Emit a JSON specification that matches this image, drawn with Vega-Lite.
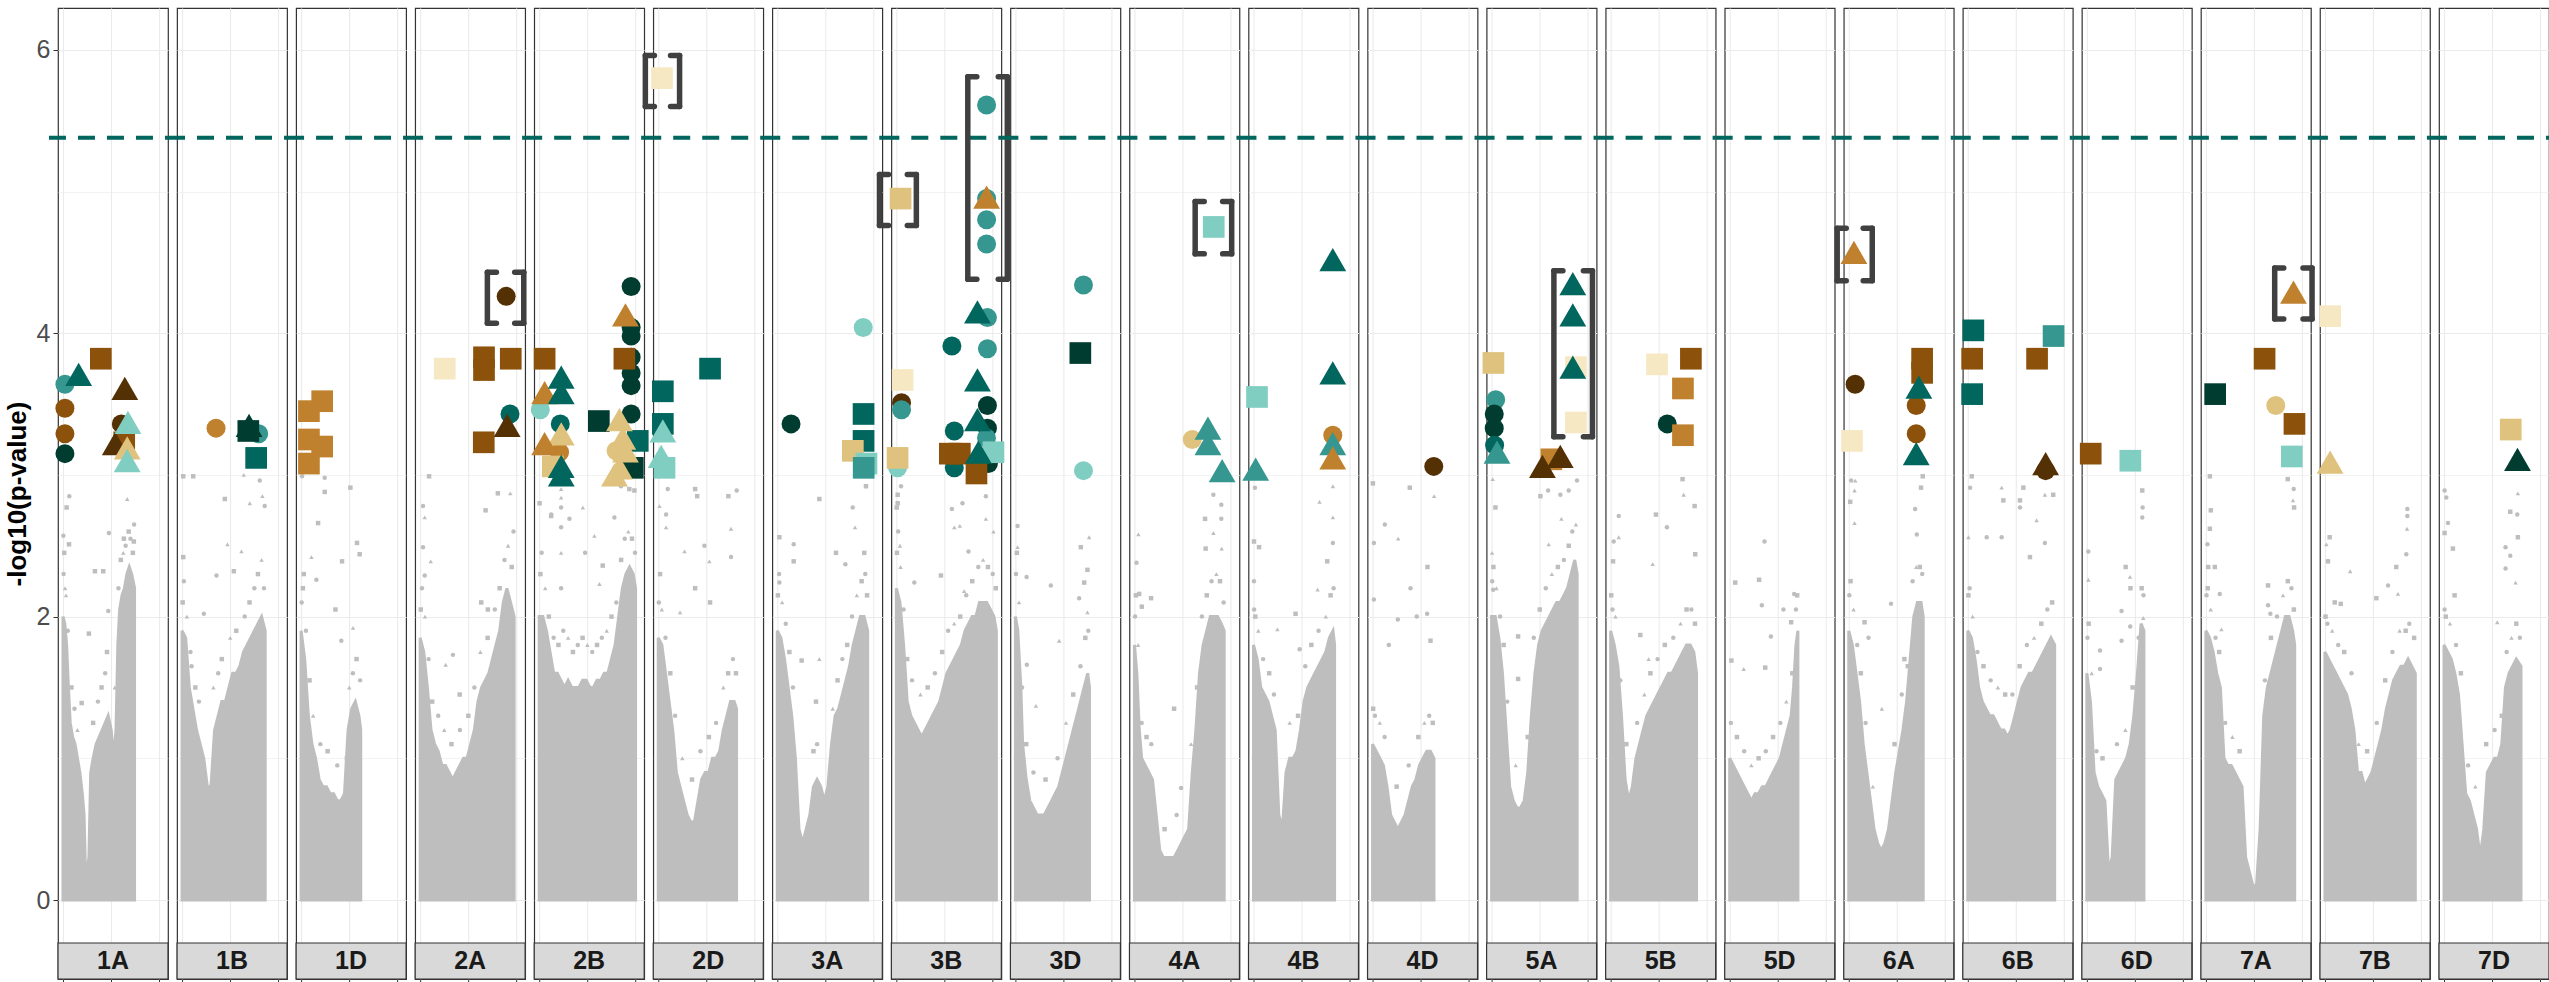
{
"$schema":"https://vega.github.io/schema/vega-lite/v6.json",
"padding":{"left":4,"top":7,"right":0,"bottom":0},
"autosize":{"type":"pad"},
"bounds":"flush",
"background":"white",
"config":{"view":{"stroke":"#333333","strokeWidth":1.2},"axis":{"domain":false,"labelFont":"Liberation Sans","titleFont":"Liberation Sans","gridColor":"#ebebeb"},"text":{"font":"Liberation Sans"}},
"data":{"values":[
{"k":"h","c":"1A"},{"k":"h","c":"1B"},{"k":"h","c":"1D"},{"k":"h","c":"2A"},{"k":"h","c":"2B"},{"k":"h","c":"2D"},{"k":"h","c":"3A"},{"k":"h","c":"3B"},{"k":"h","c":"3D"},{"k":"h","c":"4A"},{"k":"h","c":"4B"},{"k":"h","c":"4D"},{"k":"h","c":"5A"},{"k":"h","c":"5B"},{"k":"h","c":"5D"},{"k":"h","c":"6A"},{"k":"h","c":"6B"},{"k":"h","c":"6D"},{"k":"h","c":"7A"},{"k":"h","c":"7B"},{"k":"h","c":"7D"},
{"k":"g","c":"1A","x":0,"y":2.0},{"k":"g","c":"1A","x":15,"y":1.95},{"k":"g","c":"1A","x":30,"y":1.8},{"k":"g","c":"1A","x":45,"y":1.5},{"k":"g","c":"1A","x":60,"y":1.25},{"k":"g","c":"1A","x":80,"y":1.15},{"k":"g","c":"1A","x":100,"y":1.1},{"k":"g","c":"1A","x":120,"y":1.0},{"k":"g","c":"1A","x":140,"y":0.9},{"k":"g","c":"1A","x":160,"y":0.75},{"k":"g","c":"1A","x":175,"y":0.6},{"k":"g","c":"1A","x":185,"y":0.25},{"k":"g","c":"1A","x":200,"y":0.2},{"k":"g","c":"1A","x":215,"y":0.3},{"k":"g","c":"1A","x":230,"y":0.9},{"k":"g","c":"1A","x":250,"y":1.0},{"k":"g","c":"1A","x":275,"y":1.1},{"k":"g","c":"1A","x":300,"y":1.15},{"k":"g","c":"1A","x":325,"y":1.2},{"k":"g","c":"1A","x":350,"y":1.25},{"k":"g","c":"1A","x":375,"y":1.3},{"k":"g","c":"1A","x":400,"y":1.2},{"k":"g","c":"1A","x":420,"y":1.0},{"k":"g","c":"1A","x":440,"y":1.2},{"k":"g","c":"1A","x":455,"y":1.8},{"k":"g","c":"1A","x":470,"y":2.05},{"k":"g","c":"1A","x":490,"y":2.15},{"k":"g","c":"1A","x":510,"y":2.2},{"k":"g","c":"1A","x":530,"y":2.3},{"k":"g","c":"1A","x":550,"y":2.35},{"k":"g","c":"1A","x":570,"y":2.3},{"k":"g","c":"1A","x":594,"y":2.2},
{"k":"g","c":"1B","x":0,"y":1.9},{"k":"g","c":"1B","x":30,"y":1.85},{"k":"g","c":"1B","x":60,"y":1.5},{"k":"g","c":"1B","x":90,"y":1.35},{"k":"g","c":"1B","x":120,"y":1.2},{"k":"g","c":"1B","x":150,"y":1.1},{"k":"g","c":"1B","x":180,"y":1.0},{"k":"g","c":"1B","x":210,"y":0.8},{"k":"g","c":"1B","x":240,"y":0.8},{"k":"g","c":"1B","x":270,"y":1.2},{"k":"g","c":"1B","x":300,"y":1.3},{"k":"g","c":"1B","x":330,"y":1.4},{"k":"g","c":"1B","x":360,"y":1.4},{"k":"g","c":"1B","x":390,"y":1.5},{"k":"g","c":"1B","x":420,"y":1.6},{"k":"g","c":"1B","x":450,"y":1.6},{"k":"g","c":"1B","x":480,"y":1.65},{"k":"g","c":"1B","x":510,"y":1.75},{"k":"g","c":"1B","x":540,"y":1.8},{"k":"g","c":"1B","x":570,"y":1.85},{"k":"g","c":"1B","x":600,"y":1.9},{"k":"g","c":"1B","x":630,"y":1.95},{"k":"g","c":"1B","x":660,"y":2.0},{"k":"g","c":"1B","x":690,"y":1.9},
{"k":"g","c":"1D","x":0,"y":1.9},{"k":"g","c":"1D","x":30,"y":1.7},{"k":"g","c":"1D","x":60,"y":1.3},{"k":"g","c":"1D","x":90,"y":1.1},{"k":"g","c":"1D","x":120,"y":1.0},{"k":"g","c":"1D","x":150,"y":0.85},{"k":"g","c":"1D","x":180,"y":0.8},{"k":"g","c":"1D","x":210,"y":0.8},{"k":"g","c":"1D","x":240,"y":0.75},{"k":"g","c":"1D","x":270,"y":0.75},{"k":"g","c":"1D","x":300,"y":0.7},{"k":"g","c":"1D","x":330,"y":0.7},{"k":"g","c":"1D","x":360,"y":0.75},{"k":"g","c":"1D","x":390,"y":1.2},{"k":"g","c":"1D","x":420,"y":1.35},{"k":"g","c":"1D","x":450,"y":1.4},{"k":"g","c":"1D","x":480,"y":1.3},{"k":"g","c":"1D","x":495,"y":1.2},
{"k":"g","c":"2A","x":0,"y":1.85},{"k":"g","c":"2A","x":30,"y":1.75},{"k":"g","c":"2A","x":60,"y":1.5},{"k":"g","c":"2A","x":90,"y":1.2},{"k":"g","c":"2A","x":120,"y":1.1},{"k":"g","c":"2A","x":150,"y":1.05},{"k":"g","c":"2A","x":180,"y":0.95},{"k":"g","c":"2A","x":210,"y":0.95},{"k":"g","c":"2A","x":240,"y":0.9},{"k":"g","c":"2A","x":270,"y":0.85},{"k":"g","c":"2A","x":300,"y":0.9},{"k":"g","c":"2A","x":330,"y":0.95},{"k":"g","c":"2A","x":360,"y":1.0},{"k":"g","c":"2A","x":390,"y":1.0},{"k":"g","c":"2A","x":420,"y":1.1},{"k":"g","c":"2A","x":450,"y":1.2},{"k":"g","c":"2A","x":480,"y":1.4},{"k":"g","c":"2A","x":510,"y":1.5},{"k":"g","c":"2A","x":540,"y":1.55},{"k":"g","c":"2A","x":570,"y":1.6},{"k":"g","c":"2A","x":600,"y":1.7},{"k":"g","c":"2A","x":630,"y":1.8},{"k":"g","c":"2A","x":660,"y":1.9},{"k":"g","c":"2A","x":690,"y":2.1},{"k":"g","c":"2A","x":720,"y":2.2},{"k":"g","c":"2A","x":750,"y":2.1},{"k":"g","c":"2A","x":780,"y":2.0},
{"k":"g","c":"2B","x":0,"y":2.0},{"k":"g","c":"2B","x":30,"y":2.0},{"k":"g","c":"2B","x":60,"y":1.9},{"k":"g","c":"2B","x":90,"y":1.75},{"k":"g","c":"2B","x":120,"y":1.6},{"k":"g","c":"2B","x":150,"y":1.6},{"k":"g","c":"2B","x":180,"y":1.55},{"k":"g","c":"2B","x":210,"y":1.5},{"k":"g","c":"2B","x":240,"y":1.55},{"k":"g","c":"2B","x":270,"y":1.5},{"k":"g","c":"2B","x":300,"y":1.5},{"k":"g","c":"2B","x":330,"y":1.5},{"k":"g","c":"2B","x":360,"y":1.55},{"k":"g","c":"2B","x":390,"y":1.55},{"k":"g","c":"2B","x":420,"y":1.5},{"k":"g","c":"2B","x":450,"y":1.5},{"k":"g","c":"2B","x":480,"y":1.55},{"k":"g","c":"2B","x":510,"y":1.55},{"k":"g","c":"2B","x":540,"y":1.6},{"k":"g","c":"2B","x":570,"y":1.6},{"k":"g","c":"2B","x":600,"y":1.7},{"k":"g","c":"2B","x":630,"y":1.8},{"k":"g","c":"2B","x":660,"y":2.0},{"k":"g","c":"2B","x":690,"y":2.2},{"k":"g","c":"2B","x":720,"y":2.3},{"k":"g","c":"2B","x":750,"y":2.35},{"k":"g","c":"2B","x":780,"y":2.3},{"k":"g","c":"2B","x":800,"y":2.2},
{"k":"g","c":"2D","x":0,"y":1.85},{"k":"g","c":"2D","x":30,"y":1.8},{"k":"g","c":"2D","x":60,"y":1.6},{"k":"g","c":"2D","x":90,"y":1.4},{"k":"g","c":"2D","x":120,"y":1.2},{"k":"g","c":"2D","x":150,"y":0.9},{"k":"g","c":"2D","x":180,"y":0.8},{"k":"g","c":"2D","x":210,"y":0.7},{"k":"g","c":"2D","x":240,"y":0.6},{"k":"g","c":"2D","x":270,"y":0.55},{"k":"g","c":"2D","x":300,"y":0.55},{"k":"g","c":"2D","x":330,"y":0.7},{"k":"g","c":"2D","x":360,"y":0.85},{"k":"g","c":"2D","x":390,"y":0.9},{"k":"g","c":"2D","x":420,"y":0.9},{"k":"g","c":"2D","x":450,"y":1.0},{"k":"g","c":"2D","x":480,"y":1.0},{"k":"g","c":"2D","x":510,"y":1.05},{"k":"g","c":"2D","x":540,"y":1.2},{"k":"g","c":"2D","x":570,"y":1.3},{"k":"g","c":"2D","x":600,"y":1.4},{"k":"g","c":"2D","x":630,"y":1.4},{"k":"g","c":"2D","x":650,"y":1.35},
{"k":"g","c":"3A","x":0,"y":1.9},{"k":"g","c":"3A","x":30,"y":1.85},{"k":"g","c":"3A","x":60,"y":1.7},{"k":"g","c":"3A","x":90,"y":1.5},{"k":"g","c":"3A","x":120,"y":1.3},{"k":"g","c":"3A","x":150,"y":1.0},{"k":"g","c":"3A","x":180,"y":0.5},{"k":"g","c":"3A","x":210,"y":0.4},{"k":"g","c":"3A","x":240,"y":0.5},{"k":"g","c":"3A","x":270,"y":0.6},{"k":"g","c":"3A","x":300,"y":0.8},{"k":"g","c":"3A","x":330,"y":0.85},{"k":"g","c":"3A","x":360,"y":0.8},{"k":"g","c":"3A","x":390,"y":0.7},{"k":"g","c":"3A","x":420,"y":0.8},{"k":"g","c":"3A","x":450,"y":1.1},{"k":"g","c":"3A","x":480,"y":1.3},{"k":"g","c":"3A","x":510,"y":1.35},{"k":"g","c":"3A","x":540,"y":1.45},{"k":"g","c":"3A","x":570,"y":1.55},{"k":"g","c":"3A","x":600,"y":1.65},{"k":"g","c":"3A","x":630,"y":1.8},{"k":"g","c":"3A","x":660,"y":1.9},{"k":"g","c":"3A","x":690,"y":2.0},{"k":"g","c":"3A","x":720,"y":2.0},{"k":"g","c":"3A","x":750,"y":1.9},
{"k":"g","c":"3B","x":0,"y":2.2},{"k":"g","c":"3B","x":30,"y":2.1},{"k":"g","c":"3B","x":60,"y":1.8},{"k":"g","c":"3B","x":90,"y":1.4},{"k":"g","c":"3B","x":120,"y":1.3},{"k":"g","c":"3B","x":150,"y":1.25},{"k":"g","c":"3B","x":180,"y":1.2},{"k":"g","c":"3B","x":210,"y":1.15},{"k":"g","c":"3B","x":240,"y":1.2},{"k":"g","c":"3B","x":270,"y":1.25},{"k":"g","c":"3B","x":300,"y":1.3},{"k":"g","c":"3B","x":330,"y":1.35},{"k":"g","c":"3B","x":360,"y":1.4},{"k":"g","c":"3B","x":390,"y":1.5},{"k":"g","c":"3B","x":420,"y":1.6},{"k":"g","c":"3B","x":450,"y":1.65},{"k":"g","c":"3B","x":480,"y":1.7},{"k":"g","c":"3B","x":510,"y":1.75},{"k":"g","c":"3B","x":540,"y":1.8},{"k":"g","c":"3B","x":570,"y":1.9},{"k":"g","c":"3B","x":600,"y":1.95},{"k":"g","c":"3B","x":630,"y":2.0},{"k":"g","c":"3B","x":660,"y":2.0},{"k":"g","c":"3B","x":690,"y":2.1},{"k":"g","c":"3B","x":720,"y":2.1},{"k":"g","c":"3B","x":750,"y":2.1},{"k":"g","c":"3B","x":780,"y":2.05},{"k":"g","c":"3B","x":810,"y":2.0},{"k":"g","c":"3B","x":830,"y":1.9},
{"k":"g","c":"3D","x":0,"y":2.0},{"k":"g","c":"3D","x":20,"y":1.9},{"k":"g","c":"3D","x":45,"y":1.5},{"k":"g","c":"3D","x":60,"y":1.1},{"k":"g","c":"3D","x":90,"y":0.85},{"k":"g","c":"3D","x":120,"y":0.7},{"k":"g","c":"3D","x":150,"y":0.65},{"k":"g","c":"3D","x":180,"y":0.6},{"k":"g","c":"3D","x":210,"y":0.6},{"k":"g","c":"3D","x":240,"y":0.6},{"k":"g","c":"3D","x":270,"y":0.65},{"k":"g","c":"3D","x":300,"y":0.7},{"k":"g","c":"3D","x":330,"y":0.75},{"k":"g","c":"3D","x":360,"y":0.8},{"k":"g","c":"3D","x":390,"y":0.9},{"k":"g","c":"3D","x":420,"y":1.0},{"k":"g","c":"3D","x":450,"y":1.1},{"k":"g","c":"3D","x":480,"y":1.2},{"k":"g","c":"3D","x":510,"y":1.3},{"k":"g","c":"3D","x":540,"y":1.4},{"k":"g","c":"3D","x":570,"y":1.5},{"k":"g","c":"3D","x":600,"y":1.6},{"k":"g","c":"3D","x":615,"y":1.5},
{"k":"g","c":"4A","x":0,"y":1.8},{"k":"g","c":"4A","x":20,"y":1.6},{"k":"g","c":"4A","x":40,"y":1.2},{"k":"g","c":"4A","x":60,"y":1.0},{"k":"g","c":"4A","x":90,"y":0.95},{"k":"g","c":"4A","x":120,"y":0.9},{"k":"g","c":"4A","x":150,"y":0.85},{"k":"g","c":"4A","x":180,"y":0.6},{"k":"g","c":"4A","x":210,"y":0.35},{"k":"g","c":"4A","x":240,"y":0.3},{"k":"g","c":"4A","x":270,"y":0.3},{"k":"g","c":"4A","x":300,"y":0.3},{"k":"g","c":"4A","x":330,"y":0.3},{"k":"g","c":"4A","x":360,"y":0.35},{"k":"g","c":"4A","x":390,"y":0.4},{"k":"g","c":"4A","x":420,"y":0.45},{"k":"g","c":"4A","x":450,"y":0.5},{"k":"g","c":"4A","x":480,"y":0.9},{"k":"g","c":"4A","x":510,"y":1.2},{"k":"g","c":"4A","x":540,"y":1.6},{"k":"g","c":"4A","x":570,"y":1.8},{"k":"g","c":"4A","x":600,"y":1.9},{"k":"g","c":"4A","x":630,"y":2.0},{"k":"g","c":"4A","x":660,"y":2.0},{"k":"g","c":"4A","x":690,"y":2.0},{"k":"g","c":"4A","x":720,"y":1.95},{"k":"g","c":"4A","x":745,"y":1.9},
{"k":"g","c":"4B","x":0,"y":1.8},{"k":"g","c":"4B","x":30,"y":1.7},{"k":"g","c":"4B","x":60,"y":1.5},{"k":"g","c":"4B","x":90,"y":1.45},{"k":"g","c":"4B","x":120,"y":1.4},{"k":"g","c":"4B","x":150,"y":1.3},{"k":"g","c":"4B","x":180,"y":1.2},{"k":"g","c":"4B","x":210,"y":0.6},{"k":"g","c":"4B","x":240,"y":0.5},{"k":"g","c":"4B","x":270,"y":0.9},{"k":"g","c":"4B","x":300,"y":1.0},{"k":"g","c":"4B","x":330,"y":1.0},{"k":"g","c":"4B","x":360,"y":1.05},{"k":"g","c":"4B","x":390,"y":1.2},{"k":"g","c":"4B","x":420,"y":1.4},{"k":"g","c":"4B","x":450,"y":1.5},{"k":"g","c":"4B","x":480,"y":1.55},{"k":"g","c":"4B","x":510,"y":1.6},{"k":"g","c":"4B","x":540,"y":1.65},{"k":"g","c":"4B","x":570,"y":1.7},{"k":"g","c":"4B","x":600,"y":1.75},{"k":"g","c":"4B","x":630,"y":1.85},{"k":"g","c":"4B","x":660,"y":1.9},{"k":"g","c":"4B","x":673,"y":1.8},
{"k":"g","c":"4D","x":0,"y":1.1},{"k":"g","c":"4D","x":30,"y":1.05},{"k":"g","c":"4D","x":60,"y":1.0},{"k":"g","c":"4D","x":90,"y":0.95},{"k":"g","c":"4D","x":120,"y":0.8},{"k":"g","c":"4D","x":150,"y":0.6},{"k":"g","c":"4D","x":180,"y":0.55},{"k":"g","c":"4D","x":210,"y":0.5},{"k":"g","c":"4D","x":240,"y":0.55},{"k":"g","c":"4D","x":270,"y":0.6},{"k":"g","c":"4D","x":300,"y":0.7},{"k":"g","c":"4D","x":330,"y":0.8},{"k":"g","c":"4D","x":360,"y":0.85},{"k":"g","c":"4D","x":390,"y":0.95},{"k":"g","c":"4D","x":420,"y":1.0},{"k":"g","c":"4D","x":450,"y":1.05},{"k":"g","c":"4D","x":480,"y":1.05},{"k":"g","c":"4D","x":510,"y":1.0},
{"k":"g","c":"5A","x":0,"y":2.0},{"k":"g","c":"5A","x":30,"y":2.0},{"k":"g","c":"5A","x":60,"y":1.85},{"k":"g","c":"5A","x":90,"y":1.6},{"k":"g","c":"5A","x":120,"y":1.2},{"k":"g","c":"5A","x":150,"y":0.8},{"k":"g","c":"5A","x":180,"y":0.7},{"k":"g","c":"5A","x":210,"y":0.65},{"k":"g","c":"5A","x":240,"y":0.65},{"k":"g","c":"5A","x":270,"y":0.7},{"k":"g","c":"5A","x":300,"y":0.9},{"k":"g","c":"5A","x":330,"y":1.3},{"k":"g","c":"5A","x":360,"y":1.6},{"k":"g","c":"5A","x":390,"y":1.8},{"k":"g","c":"5A","x":420,"y":1.9},{"k":"g","c":"5A","x":450,"y":1.95},{"k":"g","c":"5A","x":480,"y":2.0},{"k":"g","c":"5A","x":510,"y":2.05},{"k":"g","c":"5A","x":540,"y":2.1},{"k":"g","c":"5A","x":570,"y":2.1},{"k":"g","c":"5A","x":600,"y":2.15},{"k":"g","c":"5A","x":630,"y":2.2},{"k":"g","c":"5A","x":660,"y":2.3},{"k":"g","c":"5A","x":690,"y":2.4},{"k":"g","c":"5A","x":710,"y":2.3},
{"k":"g","c":"5B","x":0,"y":1.9},{"k":"g","c":"5B","x":30,"y":1.8},{"k":"g","c":"5B","x":60,"y":1.65},{"k":"g","c":"5B","x":90,"y":1.3},{"k":"g","c":"5B","x":120,"y":0.85},{"k":"g","c":"5B","x":150,"y":0.7},{"k":"g","c":"5B","x":180,"y":0.8},{"k":"g","c":"5B","x":210,"y":1.0},{"k":"g","c":"5B","x":240,"y":1.1},{"k":"g","c":"5B","x":270,"y":1.2},{"k":"g","c":"5B","x":300,"y":1.3},{"k":"g","c":"5B","x":330,"y":1.35},{"k":"g","c":"5B","x":360,"y":1.4},{"k":"g","c":"5B","x":390,"y":1.45},{"k":"g","c":"5B","x":420,"y":1.5},{"k":"g","c":"5B","x":450,"y":1.55},{"k":"g","c":"5B","x":480,"y":1.6},{"k":"g","c":"5B","x":510,"y":1.6},{"k":"g","c":"5B","x":540,"y":1.65},{"k":"g","c":"5B","x":570,"y":1.7},{"k":"g","c":"5B","x":600,"y":1.75},{"k":"g","c":"5B","x":630,"y":1.8},{"k":"g","c":"5B","x":660,"y":1.8},{"k":"g","c":"5B","x":690,"y":1.75},{"k":"g","c":"5B","x":713,"y":1.6},
{"k":"g","c":"5D","x":0,"y":1.0},{"k":"g","c":"5D","x":30,"y":0.95},{"k":"g","c":"5D","x":60,"y":0.9},{"k":"g","c":"5D","x":90,"y":0.85},{"k":"g","c":"5D","x":120,"y":0.8},{"k":"g","c":"5D","x":150,"y":0.75},{"k":"g","c":"5D","x":180,"y":0.7},{"k":"g","c":"5D","x":210,"y":0.75},{"k":"g","c":"5D","x":240,"y":0.75},{"k":"g","c":"5D","x":270,"y":0.8},{"k":"g","c":"5D","x":300,"y":0.8},{"k":"g","c":"5D","x":330,"y":0.85},{"k":"g","c":"5D","x":360,"y":0.9},{"k":"g","c":"5D","x":390,"y":0.95},{"k":"g","c":"5D","x":420,"y":1.0},{"k":"g","c":"5D","x":450,"y":1.1},{"k":"g","c":"5D","x":480,"y":1.2},{"k":"g","c":"5D","x":510,"y":1.3},{"k":"g","c":"5D","x":530,"y":1.5},{"k":"g","c":"5D","x":550,"y":1.8},{"k":"g","c":"5D","x":566,"y":1.9},
{"k":"g","c":"6A","x":0,"y":1.9},{"k":"g","c":"6A","x":30,"y":1.8},{"k":"g","c":"6A","x":60,"y":1.6},{"k":"g","c":"6A","x":90,"y":1.4},{"k":"g","c":"6A","x":120,"y":1.1},{"k":"g","c":"6A","x":150,"y":0.9},{"k":"g","c":"6A","x":180,"y":0.7},{"k":"g","c":"6A","x":210,"y":0.5},{"k":"g","c":"6A","x":240,"y":0.4},{"k":"g","c":"6A","x":270,"y":0.35},{"k":"g","c":"6A","x":300,"y":0.4},{"k":"g","c":"6A","x":330,"y":0.5},{"k":"g","c":"6A","x":360,"y":0.7},{"k":"g","c":"6A","x":390,"y":0.9},{"k":"g","c":"6A","x":420,"y":1.05},{"k":"g","c":"6A","x":450,"y":1.2},{"k":"g","c":"6A","x":480,"y":1.4},{"k":"g","c":"6A","x":510,"y":1.7},{"k":"g","c":"6A","x":540,"y":2.0},{"k":"g","c":"6A","x":570,"y":2.1},{"k":"g","c":"6A","x":600,"y":2.1},{"k":"g","c":"6A","x":618,"y":2.0},
{"k":"g","c":"6B","x":0,"y":1.9},{"k":"g","c":"6B","x":30,"y":1.85},{"k":"g","c":"6B","x":60,"y":1.7},{"k":"g","c":"6B","x":90,"y":1.5},{"k":"g","c":"6B","x":120,"y":1.4},{"k":"g","c":"6B","x":150,"y":1.35},{"k":"g","c":"6B","x":180,"y":1.3},{"k":"g","c":"6B","x":210,"y":1.3},{"k":"g","c":"6B","x":240,"y":1.25},{"k":"g","c":"6B","x":270,"y":1.2},{"k":"g","c":"6B","x":300,"y":1.2},{"k":"g","c":"6B","x":330,"y":1.15},{"k":"g","c":"6B","x":360,"y":1.2},{"k":"g","c":"6B","x":390,"y":1.3},{"k":"g","c":"6B","x":420,"y":1.4},{"k":"g","c":"6B","x":450,"y":1.5},{"k":"g","c":"6B","x":480,"y":1.55},{"k":"g","c":"6B","x":510,"y":1.6},{"k":"g","c":"6B","x":540,"y":1.6},{"k":"g","c":"6B","x":570,"y":1.65},{"k":"g","c":"6B","x":600,"y":1.7},{"k":"g","c":"6B","x":630,"y":1.75},{"k":"g","c":"6B","x":660,"y":1.8},{"k":"g","c":"6B","x":690,"y":1.85},{"k":"g","c":"6B","x":721,"y":1.8},
{"k":"g","c":"6D","x":0,"y":1.6},{"k":"g","c":"6D","x":30,"y":1.4},{"k":"g","c":"6D","x":60,"y":0.9},{"k":"g","c":"6D","x":90,"y":0.8},{"k":"g","c":"6D","x":120,"y":0.75},{"k":"g","c":"6D","x":150,"y":0.7},{"k":"g","c":"6D","x":180,"y":0.2},{"k":"g","c":"6D","x":210,"y":0.3},{"k":"g","c":"6D","x":240,"y":0.85},{"k":"g","c":"6D","x":270,"y":0.9},{"k":"g","c":"6D","x":300,"y":0.95},{"k":"g","c":"6D","x":330,"y":1.0},{"k":"g","c":"6D","x":360,"y":1.1},{"k":"g","c":"6D","x":390,"y":1.3},{"k":"g","c":"6D","x":420,"y":1.6},{"k":"g","c":"6D","x":450,"y":1.95},{"k":"g","c":"6D","x":474,"y":1.9},
{"k":"g","c":"7A","x":0,"y":1.9},{"k":"g","c":"7A","x":30,"y":1.85},{"k":"g","c":"7A","x":60,"y":1.75},{"k":"g","c":"7A","x":90,"y":1.6},{"k":"g","c":"7A","x":120,"y":1.5},{"k":"g","c":"7A","x":150,"y":1.0},{"k":"g","c":"7A","x":180,"y":0.95},{"k":"g","c":"7A","x":210,"y":0.95},{"k":"g","c":"7A","x":240,"y":0.9},{"k":"g","c":"7A","x":270,"y":0.85},{"k":"g","c":"7A","x":300,"y":0.8},{"k":"g","c":"7A","x":330,"y":0.3},{"k":"g","c":"7A","x":360,"y":0.2},{"k":"g","c":"7A","x":390,"y":0.1},{"k":"g","c":"7A","x":420,"y":0.1},{"k":"g","c":"7A","x":450,"y":0.5},{"k":"g","c":"7A","x":480,"y":1.3},{"k":"g","c":"7A","x":510,"y":1.5},{"k":"g","c":"7A","x":540,"y":1.6},{"k":"g","c":"7A","x":570,"y":1.7},{"k":"g","c":"7A","x":600,"y":1.8},{"k":"g","c":"7A","x":630,"y":1.9},{"k":"g","c":"7A","x":660,"y":2.0},{"k":"g","c":"7A","x":690,"y":2.0},{"k":"g","c":"7A","x":720,"y":1.9},{"k":"g","c":"7A","x":737,"y":1.8},
{"k":"g","c":"7B","x":0,"y":1.75},{"k":"g","c":"7B","x":30,"y":1.7},{"k":"g","c":"7B","x":60,"y":1.65},{"k":"g","c":"7B","x":90,"y":1.6},{"k":"g","c":"7B","x":120,"y":1.55},{"k":"g","c":"7B","x":150,"y":1.5},{"k":"g","c":"7B","x":180,"y":1.45},{"k":"g","c":"7B","x":210,"y":1.35},{"k":"g","c":"7B","x":240,"y":1.2},{"k":"g","c":"7B","x":270,"y":0.9},{"k":"g","c":"7B","x":300,"y":0.9},{"k":"g","c":"7B","x":330,"y":0.8},{"k":"g","c":"7B","x":360,"y":0.85},{"k":"g","c":"7B","x":390,"y":0.9},{"k":"g","c":"7B","x":420,"y":1.0},{"k":"g","c":"7B","x":450,"y":1.1},{"k":"g","c":"7B","x":480,"y":1.2},{"k":"g","c":"7B","x":510,"y":1.35},{"k":"g","c":"7B","x":540,"y":1.45},{"k":"g","c":"7B","x":570,"y":1.55},{"k":"g","c":"7B","x":600,"y":1.6},{"k":"g","c":"7B","x":630,"y":1.65},{"k":"g","c":"7B","x":660,"y":1.65},{"k":"g","c":"7B","x":690,"y":1.7},{"k":"g","c":"7B","x":720,"y":1.65},{"k":"g","c":"7B","x":750,"y":1.6},
{"k":"g","c":"7D","x":0,"y":1.8},{"k":"g","c":"7D","x":30,"y":1.75},{"k":"g","c":"7D","x":60,"y":1.7},{"k":"g","c":"7D","x":90,"y":1.6},{"k":"g","c":"7D","x":120,"y":1.45},{"k":"g","c":"7D","x":150,"y":1.1},{"k":"g","c":"7D","x":180,"y":0.75},{"k":"g","c":"7D","x":210,"y":0.7},{"k":"g","c":"7D","x":240,"y":0.6},{"k":"g","c":"7D","x":270,"y":0.5},{"k":"g","c":"7D","x":300,"y":0.3},{"k":"g","c":"7D","x":330,"y":0.5},{"k":"g","c":"7D","x":360,"y":0.9},{"k":"g","c":"7D","x":390,"y":0.95},{"k":"g","c":"7D","x":420,"y":1.0},{"k":"g","c":"7D","x":450,"y":1.0},{"k":"g","c":"7D","x":480,"y":1.1},{"k":"g","c":"7D","x":510,"y":1.5},{"k":"g","c":"7D","x":540,"y":1.6},{"k":"g","c":"7D","x":570,"y":1.65},{"k":"g","c":"7D","x":600,"y":1.7},{"k":"g","c":"7D","x":639,"y":1.65},
{"k":"s","c":"1A","x":52,"y":2.85,"s":"A"},{"k":"s","c":"1A","x":30,"y":2.77,"s":"B"},{"k":"s","c":"1A","x":3,"y":2.57,"s":"A"},{"k":"s","c":"1A","x":50,"y":2.51,"s":"B"},{"k":"s","c":"1A","x":533,"y":2.83,"s":"C"},{"k":"s","c":"1A","x":505,"y":2.55,"s":"B"},{"k":"s","c":"1A","x":588,"y":2.53,"s":"B"},{"k":"s","c":"1A","x":265,"y":2.32,"s":"B"},{"k":"s","c":"1A","x":334,"y":2.32,"s":"B"},{"k":"s","c":"1A","x":381,"y":2.59,"s":"A"},{"k":"s","c":"1A","x":215,"y":1.88,"s":"B"},{"k":"s","c":"1A","x":155,"y":1.39,"s":"B"},{"k":"s","c":"1A","x":376,"y":2.04,"s":"A"},{"k":"s","c":"1A","x":472,"y":1.79,"s":"C"},{"k":"s","c":"1A","x":17,"y":2.2,"s":"C"},
{"k":"s","c":"1A","x":5,"y":2.3,"s":"A"},{"k":"s","c":"1A","x":10,"y":2.45,"s":"B"},{"k":"s","c":"1A","x":25,"y":2.15,"s":"C"},{"k":"s","c":"1A","x":40,"y":1.9,"s":"A"},{"k":"s","c":"1A","x":70,"y":1.5,"s":"B"},{"k":"s","c":"1A","x":95,"y":1.35,"s":"A"},{"k":"s","c":"1A","x":120,"y":1.2,"s":"C"},{"k":"s","c":"1A","x":250,"y":1.25,"s":"B"},{"k":"s","c":"1A","x":290,"y":1.4,"s":"A"},{"k":"s","c":"1A","x":320,"y":1.5,"s":"B"},{"k":"s","c":"1A","x":350,"y":1.6,"s":"A"},{"k":"s","c":"1A","x":365,"y":1.75,"s":"B"},{"k":"s","c":"1A","x":430,"y":1.5,"s":"C"},{"k":"s","c":"1A","x":460,"y":2.2,"s":"A"},{"k":"s","c":"1A","x":480,"y":2.4,"s":"B"},{"k":"s","c":"1A","x":500,"y":2.45,"s":"C"},{"k":"s","c":"1A","x":520,"y":2.5,"s":"A"},{"k":"s","c":"1A","x":545,"y":2.6,"s":"B"},{"k":"s","c":"1A","x":560,"y":2.55,"s":"A"},{"k":"s","c":"1A","x":580,"y":2.45,"s":"B"},{"k":"s","c":"1A","x":590,"y":2.65,"s":"A"},
{"k":"s","c":"1B","x":10,"y":2.99,"s":"B"},{"k":"s","c":"1B","x":93,"y":2.99,"s":"B"},{"k":"s","c":"1B","x":512,"y":3.0,"s":"C"},{"k":"s","c":"1B","x":645,"y":2.96,"s":"A"},{"k":"s","c":"1B","x":667,"y":2.85,"s":"C"},{"k":"s","c":"1B","x":355,"y":2.83,"s":"B"},{"k":"s","c":"1B","x":562,"y":2.8,"s":"C"},{"k":"s","c":"1B","x":686,"y":2.78,"s":"A"},{"k":"s","c":"1B","x":10,"y":2.42,"s":"B"},{"k":"s","c":"1B","x":181,"y":2.02,"s":"A"},{"k":"s","c":"1B","x":493,"y":2.46,"s":"C"},{"k":"s","c":"1B","x":430,"y":2.32,"s":"B"},{"k":"s","c":"1B","x":286,"y":2.29,"s":"A"},{"k":"s","c":"1B","x":79,"y":1.65,"s":"A"},{"k":"s","c":"1B","x":377,"y":2.51,"s":"C"},
{"k":"s","c":"1B","x":5,"y":2.1,"s":"B"},{"k":"s","c":"1B","x":15,"y":2.25,"s":"A"},{"k":"s","c":"1B","x":40,"y":2.0,"s":"C"},{"k":"s","c":"1B","x":70,"y":1.75,"s":"A"},{"k":"s","c":"1B","x":110,"y":1.5,"s":"B"},{"k":"s","c":"1B","x":140,"y":1.4,"s":"A"},{"k":"s","c":"1B","x":260,"y":1.5,"s":"C"},{"k":"s","c":"1B","x":300,"y":1.6,"s":"A"},{"k":"s","c":"1B","x":330,"y":1.7,"s":"B"},{"k":"s","c":"1B","x":400,"y":1.85,"s":"C"},{"k":"s","c":"1B","x":450,"y":1.9,"s":"B"},{"k":"s","c":"1B","x":520,"y":2.0,"s":"A"},{"k":"s","c":"1B","x":560,"y":2.1,"s":"B"},{"k":"s","c":"1B","x":600,"y":2.2,"s":"A"},{"k":"s","c":"1B","x":630,"y":2.3,"s":"B"},{"k":"s","c":"1B","x":660,"y":2.4,"s":"C"},{"k":"s","c":"1B","x":680,"y":2.2,"s":"A"},
{"k":"s","c":"1D","x":8,"y":2.99,"s":"A"},{"k":"s","c":"1D","x":196,"y":2.98,"s":"A"},{"k":"s","c":"1D","x":196,"y":2.88,"s":"B"},{"k":"s","c":"1D","x":409,"y":2.91,"s":"B"},{"k":"s","c":"1D","x":141,"y":2.66,"s":"B"},{"k":"s","c":"1D","x":464,"y":2.52,"s":"B"},{"k":"s","c":"1D","x":486,"y":2.44,"s":"B"},{"k":"s","c":"1D","x":340,"y":2.39,"s":"B"},{"k":"s","c":"1D","x":86,"y":2.42,"s":"C"},{"k":"s","c":"1D","x":127,"y":2.26,"s":"A"},{"k":"s","c":"1D","x":285,"y":2.05,"s":"B"},{"k":"s","c":"1D","x":431,"y":1.92,"s":"C"},{"k":"s","c":"1D","x":334,"y":1.83,"s":"A"},{"k":"s","c":"1D","x":22,"y":2.3,"s":"B"},
{"k":"s","c":"1D","x":5,"y":2.1,"s":"A"},{"k":"s","c":"1D","x":15,"y":2.2,"s":"B"},{"k":"s","c":"1D","x":40,"y":1.9,"s":"A"},{"k":"s","c":"1D","x":70,"y":1.55,"s":"B"},{"k":"s","c":"1D","x":100,"y":1.3,"s":"C"},{"k":"s","c":"1D","x":160,"y":1.1,"s":"A"},{"k":"s","c":"1D","x":220,"y":1.05,"s":"B"},{"k":"s","c":"1D","x":300,"y":0.95,"s":"A"},{"k":"s","c":"1D","x":380,"y":1.0,"s":"B"},{"k":"s","c":"1D","x":400,"y":1.5,"s":"C"},{"k":"s","c":"1D","x":430,"y":1.6,"s":"A"},{"k":"s","c":"1D","x":460,"y":1.7,"s":"B"},{"k":"s","c":"1D","x":490,"y":1.55,"s":"A"},
{"k":"s","c":"2A","x":74,"y":2.99,"s":"B"},{"k":"s","c":"2A","x":748,"y":2.87,"s":"C"},{"k":"s","c":"2A","x":645,"y":2.87,"s":"B"},{"k":"s","c":"2A","x":543,"y":2.75,"s":"B"},{"k":"s","c":"2A","x":24,"y":2.78,"s":"A"},{"k":"s","c":"2A","x":38,"y":2.7,"s":"C"},{"k":"s","c":"2A","x":88,"y":2.39,"s":"C"},{"k":"s","c":"2A","x":38,"y":2.29,"s":"A"},{"k":"s","c":"2A","x":507,"y":2.1,"s":"B"},{"k":"s","c":"2A","x":562,"y":2.05,"s":"B"},{"k":"s","c":"2A","x":272,"y":1.73,"s":"A"},{"k":"s","c":"2A","x":212,"y":1.66,"s":"C"},{"k":"s","c":"2A","x":328,"y":1.45,"s":"B"},{"k":"s","c":"2A","x":24,"y":2.49,"s":"A"},
{"k":"s","c":"2A","x":5,"y":2.05,"s":"B"},{"k":"s","c":"2A","x":15,"y":2.2,"s":"A"},{"k":"s","c":"2A","x":40,"y":2.0,"s":"C"},{"k":"s","c":"2A","x":70,"y":1.7,"s":"A"},{"k":"s","c":"2A","x":100,"y":1.4,"s":"B"},{"k":"s","c":"2A","x":150,"y":1.3,"s":"A"},{"k":"s","c":"2A","x":200,"y":1.2,"s":"C"},{"k":"s","c":"2A","x":260,"y":1.1,"s":"B"},{"k":"s","c":"2A","x":330,"y":1.2,"s":"A"},{"k":"s","c":"2A","x":400,"y":1.3,"s":"B"},{"k":"s","c":"2A","x":450,"y":1.5,"s":"A"},{"k":"s","c":"2A","x":500,"y":1.75,"s":"C"},{"k":"s","c":"2A","x":560,"y":1.85,"s":"B"},{"k":"s","c":"2A","x":620,"y":2.05,"s":"A"},{"k":"s","c":"2A","x":660,"y":2.2,"s":"B"},{"k":"s","c":"2A","x":700,"y":2.4,"s":"A"},{"k":"s","c":"2A","x":730,"y":2.5,"s":"C"},{"k":"s","c":"2A","x":760,"y":2.35,"s":"B"},{"k":"s","c":"2A","x":775,"y":2.6,"s":"A"},
{"k":"s","c":"2B","x":182,"y":2.9,"s":"C"},{"k":"s","c":"2B","x":182,"y":2.84,"s":"C"},{"k":"s","c":"2B","x":182,"y":2.77,"s":"A"},{"k":"s","c":"2B","x":362,"y":2.77,"s":"C"},{"k":"s","c":"2B","x":251,"y":2.69,"s":"A"},{"k":"s","c":"2B","x":679,"y":2.92,"s":"A"},{"k":"s","c":"2B","x":748,"y":2.9,"s":"B"},{"k":"s","c":"2B","x":790,"y":2.89,"s":"B"},{"k":"s","c":"2B","x":624,"y":2.7,"s":"A"},{"k":"s","c":"2B","x":458,"y":2.57,"s":"C"},{"k":"s","c":"2B","x":381,"y":2.45,"s":"A"},{"k":"s","c":"2B","x":527,"y":2.36,"s":"B"},{"k":"s","c":"2B","x":500,"y":2.23,"s":"C"},{"k":"s","c":"2B","x":182,"y":2.63,"s":"A"},{"k":"s","c":"2B","x":99,"y":2.71,"s":"B"},{"k":"s","c":"2B","x":3,"y":2.8,"s":"B"},{"k":"s","c":"2B","x":100,"y":2.72,"s":"A"},{"k":"s","c":"2B","x":182,"y":2.45,"s":"C"},{"k":"s","c":"2B","x":182,"y":2.2,"s":"A"},
{"k":"s","c":"2B","x":10,"y":2.3,"s":"B"},{"k":"s","c":"2B","x":20,"y":2.45,"s":"A"},{"k":"s","c":"2B","x":50,"y":2.2,"s":"C"},{"k":"s","c":"2B","x":80,"y":2.0,"s":"B"},{"k":"s","c":"2B","x":120,"y":1.85,"s":"A"},{"k":"s","c":"2B","x":160,"y":1.8,"s":"B"},{"k":"s","c":"2B","x":200,"y":1.9,"s":"A"},{"k":"s","c":"2B","x":240,"y":1.85,"s":"C"},{"k":"s","c":"2B","x":280,"y":1.75,"s":"B"},{"k":"s","c":"2B","x":320,"y":1.8,"s":"A"},{"k":"s","c":"2B","x":360,"y":1.85,"s":"B"},{"k":"s","c":"2B","x":400,"y":1.8,"s":"C"},{"k":"s","c":"2B","x":440,"y":1.75,"s":"A"},{"k":"s","c":"2B","x":480,"y":1.8,"s":"B"},{"k":"s","c":"2B","x":520,"y":1.85,"s":"A"},{"k":"s","c":"2B","x":560,"y":1.9,"s":"C"},{"k":"s","c":"2B","x":600,"y":2.0,"s":"B"},{"k":"s","c":"2B","x":640,"y":2.1,"s":"A"},{"k":"s","c":"2B","x":680,"y":2.4,"s":"B"},{"k":"s","c":"2B","x":710,"y":2.55,"s":"A"},{"k":"s","c":"2B","x":740,"y":2.6,"s":"C"},{"k":"s","c":"2B","x":770,"y":2.55,"s":"B"},{"k":"s","c":"2B","x":795,"y":2.45,"s":"A"},
{"k":"s","c":"2D","x":79,"y":2.9,"s":"A"},{"k":"s","c":"2D","x":306,"y":2.9,"s":"B"},{"k":"s","c":"2D","x":323,"y":2.85,"s":"B"},{"k":"s","c":"2D","x":582,"y":2.85,"s":"B"},{"k":"s","c":"2D","x":651,"y":2.89,"s":"A"},{"k":"s","c":"2D","x":10,"y":2.78,"s":"C"},{"k":"s","c":"2D","x":65,"y":2.72,"s":"A"},{"k":"s","c":"2D","x":65,"y":2.63,"s":"C"},{"k":"s","c":"2D","x":218,"y":2.46,"s":"C"},{"k":"s","c":"2D","x":383,"y":2.5,"s":"A"},{"k":"s","c":"2D","x":424,"y":2.39,"s":"C"},{"k":"s","c":"2D","x":604,"y":2.62,"s":"C"},{"k":"s","c":"2D","x":604,"y":2.42,"s":"A"},{"k":"s","c":"2D","x":306,"y":2.2,"s":"B"},{"k":"s","c":"2D","x":430,"y":2.1,"s":"B"},{"k":"s","c":"2D","x":181,"y":2.03,"s":"C"},
{"k":"s","c":"2D","x":5,"y":2.1,"s":"A"},{"k":"s","c":"2D","x":15,"y":2.3,"s":"B"},{"k":"s","c":"2D","x":30,"y":2.05,"s":"C"},{"k":"s","c":"2D","x":60,"y":1.85,"s":"A"},{"k":"s","c":"2D","x":100,"y":1.6,"s":"B"},{"k":"s","c":"2D","x":140,"y":1.3,"s":"A"},{"k":"s","c":"2D","x":200,"y":1.0,"s":"C"},{"k":"s","c":"2D","x":280,"y":0.85,"s":"B"},{"k":"s","c":"2D","x":350,"y":1.05,"s":"A"},{"k":"s","c":"2D","x":420,"y":1.15,"s":"B"},{"k":"s","c":"2D","x":480,"y":1.25,"s":"A"},{"k":"s","c":"2D","x":540,"y":1.5,"s":"C"},{"k":"s","c":"2D","x":580,"y":1.6,"s":"B"},{"k":"s","c":"2D","x":620,"y":1.7,"s":"A"},{"k":"s","c":"2D","x":645,"y":1.6,"s":"B"},
{"k":"s","c":"3A","x":349,"y":2.83,"s":"B"},{"k":"s","c":"3A","x":736,"y":2.92,"s":"B"},{"k":"s","c":"3A","x":17,"y":2.56,"s":"B"},{"k":"s","c":"3A","x":136,"y":2.51,"s":"A"},{"k":"s","c":"3A","x":136,"y":2.39,"s":"B"},{"k":"s","c":"3A","x":645,"y":2.63,"s":"C"},{"k":"s","c":"3A","x":722,"y":2.45,"s":"B"},{"k":"s","c":"3A","x":487,"y":2.45,"s":"B"},{"k":"s","c":"3A","x":565,"y":2.37,"s":"A"},{"k":"s","c":"3A","x":17,"y":2.24,"s":"A"},{"k":"s","c":"3A","x":202,"y":1.69,"s":"B"},{"k":"s","c":"3A","x":349,"y":1.7,"s":"C"},{"k":"s","c":"3A","x":321,"y":1.4,"s":"B"},{"k":"s","c":"3A","x":626,"y":2.77,"s":"A"},
{"k":"s","c":"3A","x":5,"y":2.15,"s":"B"},{"k":"s","c":"3A","x":15,"y":2.3,"s":"A"},{"k":"s","c":"3A","x":40,"y":2.1,"s":"C"},{"k":"s","c":"3A","x":70,"y":1.95,"s":"A"},{"k":"s","c":"3A","x":100,"y":1.75,"s":"B"},{"k":"s","c":"3A","x":130,"y":1.5,"s":"A"},{"k":"s","c":"3A","x":300,"y":1.05,"s":"B"},{"k":"s","c":"3A","x":330,"y":1.1,"s":"A"},{"k":"s","c":"3A","x":460,"y":1.35,"s":"C"},{"k":"s","c":"3A","x":500,"y":1.55,"s":"B"},{"k":"s","c":"3A","x":540,"y":1.7,"s":"A"},{"k":"s","c":"3A","x":580,"y":1.8,"s":"B"},{"k":"s","c":"3A","x":620,"y":2.0,"s":"A"},{"k":"s","c":"3A","x":660,"y":2.15,"s":"C"},{"k":"s","c":"3A","x":700,"y":2.25,"s":"B"},{"k":"s","c":"3A","x":730,"y":2.3,"s":"A"},{"k":"s","c":"3A","x":745,"y":2.15,"s":"B"},
{"k":"s","c":"3B","x":39,"y":2.92,"s":"A"},{"k":"s","c":"3B","x":11,"y":2.86,"s":"B"},{"k":"s","c":"3B","x":11,"y":2.8,"s":"B"},{"k":"s","c":"3B","x":461,"y":2.76,"s":"A"},{"k":"s","c":"3B","x":549,"y":2.8,"s":"A"},{"k":"s","c":"3B","x":743,"y":2.85,"s":"A"},{"k":"s","c":"3B","x":743,"y":2.69,"s":"C"},{"k":"s","c":"3B","x":481,"y":2.63,"s":"C"},{"k":"s","c":"3B","x":527,"y":2.64,"s":"C"},{"k":"s","c":"3B","x":599,"y":2.46,"s":"A"},{"k":"s","c":"3B","x":806,"y":2.6,"s":"C"},{"k":"s","c":"3B","x":370,"y":2.29,"s":"B"},{"k":"s","c":"3B","x":149,"y":2.24,"s":"A"},{"k":"s","c":"3B","x":563,"y":2.18,"s":"C"},{"k":"s","c":"3B","x":30,"y":2.5,"s":"C"},{"k":"s","c":"3B","x":3,"y":2.77,"s":"B"},
{"k":"s","c":"3B","x":5,"y":2.45,"s":"B"},{"k":"s","c":"3B","x":15,"y":2.6,"s":"A"},{"k":"s","c":"3B","x":35,"y":2.35,"s":"C"},{"k":"s","c":"3B","x":60,"y":2.05,"s":"A"},{"k":"s","c":"3B","x":90,"y":1.7,"s":"B"},{"k":"s","c":"3B","x":130,"y":1.55,"s":"A"},{"k":"s","c":"3B","x":200,"y":1.45,"s":"C"},{"k":"s","c":"3B","x":260,"y":1.5,"s":"B"},{"k":"s","c":"3B","x":320,"y":1.6,"s":"A"},{"k":"s","c":"3B","x":380,"y":1.75,"s":"B"},{"k":"s","c":"3B","x":430,"y":1.9,"s":"A"},{"k":"s","c":"3B","x":480,"y":1.95,"s":"C"},{"k":"s","c":"3B","x":530,"y":2.0,"s":"B"},{"k":"s","c":"3B","x":580,"y":2.15,"s":"A"},{"k":"s","c":"3B","x":630,"y":2.25,"s":"B"},{"k":"s","c":"3B","x":680,"y":2.35,"s":"A"},{"k":"s","c":"3B","x":720,"y":2.4,"s":"C"},{"k":"s","c":"3B","x":760,"y":2.35,"s":"B"},{"k":"s","c":"3B","x":800,"y":2.3,"s":"A"},{"k":"s","c":"3B","x":825,"y":2.2,"s":"B"},
{"k":"s","c":"3D","x":18,"y":2.64,"s":"A"},{"k":"s","c":"3D","x":18,"y":2.49,"s":"C"},{"k":"s","c":"3D","x":93,"y":2.28,"s":"A"},{"k":"s","c":"3D","x":294,"y":2.22,"s":"A"},{"k":"s","c":"3D","x":363,"y":1.83,"s":"C"},{"k":"s","c":"3D","x":170,"y":1.37,"s":"C"},{"k":"s","c":"3D","x":95,"y":1.66,"s":"A"},{"k":"s","c":"3D","x":543,"y":2.49,"s":"B"},{"k":"s","c":"3D","x":612,"y":2.56,"s":"C"},{"k":"s","c":"3D","x":598,"y":2.33,"s":"B"},{"k":"s","c":"3D","x":529,"y":2.13,"s":"A"},{"k":"s","c":"3D","x":571,"y":2.24,"s":"B"},{"k":"s","c":"3D","x":598,"y":2.03,"s":"C"},
{"k":"s","c":"3D","x":5,"y":2.3,"s":"A"},{"k":"s","c":"3D","x":12,"y":2.45,"s":"B"},{"k":"s","c":"3D","x":30,"y":2.1,"s":"C"},{"k":"s","c":"3D","x":55,"y":1.5,"s":"A"},{"k":"s","c":"3D","x":90,"y":1.1,"s":"B"},{"k":"s","c":"3D","x":150,"y":0.9,"s":"A"},{"k":"s","c":"3D","x":250,"y":0.85,"s":"B"},{"k":"s","c":"3D","x":350,"y":1.0,"s":"A"},{"k":"s","c":"3D","x":420,"y":1.25,"s":"C"},{"k":"s","c":"3D","x":480,"y":1.45,"s":"B"},{"k":"s","c":"3D","x":540,"y":1.65,"s":"A"},{"k":"s","c":"3D","x":580,"y":1.85,"s":"B"},{"k":"s","c":"3D","x":605,"y":1.9,"s":"A"},
{"k":"s","c":"4A","x":655,"y":2.86,"s":"A"},{"k":"s","c":"4A","x":721,"y":2.79,"s":"A"},{"k":"s","c":"4A","x":721,"y":2.69,"s":"A"},{"k":"s","c":"4A","x":586,"y":2.69,"s":"B"},{"k":"s","c":"4A","x":655,"y":2.59,"s":"C"},{"k":"s","c":"4A","x":591,"y":2.48,"s":"B"},{"k":"s","c":"4A","x":724,"y":2.48,"s":"C"},{"k":"s","c":"4A","x":33,"y":2.58,"s":"C"},{"k":"s","c":"4A","x":17,"y":2.38,"s":"A"},{"k":"s","c":"4A","x":39,"y":2.16,"s":"B"},{"k":"s","c":"4A","x":138,"y":2.13,"s":"B"},{"k":"s","c":"4A","x":61,"y":2.07,"s":"B"},{"k":"s","c":"4A","x":329,"y":1.35,"s":"B"},{"k":"s","c":"4A","x":550,"y":1.39,"s":"C"},{"k":"s","c":"4A","x":387,"y":0.79,"s":"A"},
{"k":"s","c":"4A","x":5,"y":2.0,"s":"A"},{"k":"s","c":"4A","x":12,"y":2.15,"s":"B"},{"k":"s","c":"4A","x":30,"y":1.8,"s":"C"},{"k":"s","c":"4A","x":60,"y":1.25,"s":"A"},{"k":"s","c":"4A","x":100,"y":1.15,"s":"B"},{"k":"s","c":"4A","x":140,"y":1.1,"s":"A"},{"k":"s","c":"4A","x":250,"y":0.5,"s":"B"},{"k":"s","c":"4A","x":350,"y":0.6,"s":"A"},{"k":"s","c":"4A","x":470,"y":1.1,"s":"C"},{"k":"s","c":"4A","x":520,"y":1.5,"s":"B"},{"k":"s","c":"4A","x":560,"y":2.0,"s":"A"},{"k":"s","c":"4A","x":600,"y":2.15,"s":"B"},{"k":"s","c":"4A","x":640,"y":2.25,"s":"A"},{"k":"s","c":"4A","x":680,"y":2.3,"s":"C"},{"k":"s","c":"4A","x":710,"y":2.25,"s":"B"},{"k":"s","c":"4A","x":740,"y":2.1,"s":"A"},
{"k":"s","c":"4B","x":659,"y":2.92,"s":"C"},{"k":"s","c":"4B","x":548,"y":2.81,"s":"C"},{"k":"s","c":"4B","x":659,"y":2.7,"s":"C"},{"k":"s","c":"4B","x":659,"y":2.52,"s":"A"},{"k":"s","c":"4B","x":12,"y":2.91,"s":"A"},{"k":"s","c":"4B","x":4,"y":2.53,"s":"B"},{"k":"s","c":"4B","x":46,"y":2.49,"s":"B"},{"k":"s","c":"4B","x":4,"y":2.25,"s":"A"},{"k":"s","c":"4B","x":198,"y":1.91,"s":"C"},{"k":"s","c":"4B","x":349,"y":2.02,"s":"B"},{"k":"s","c":"4B","x":532,"y":2.19,"s":"C"},{"k":"s","c":"4B","x":612,"y":2.39,"s":"B"},{"k":"s","c":"4B","x":383,"y":1.77,"s":"A"},
{"k":"s","c":"4B","x":5,"y":2.05,"s":"A"},{"k":"s","c":"4B","x":15,"y":2.0,"s":"B"},{"k":"s","c":"4B","x":40,"y":1.9,"s":"C"},{"k":"s","c":"4B","x":80,"y":1.7,"s":"A"},{"k":"s","c":"4B","x":130,"y":1.6,"s":"B"},{"k":"s","c":"4B","x":170,"y":1.45,"s":"A"},{"k":"s","c":"4B","x":300,"y":1.25,"s":"C"},{"k":"s","c":"4B","x":370,"y":1.3,"s":"B"},{"k":"s","c":"4B","x":430,"y":1.65,"s":"A"},{"k":"s","c":"4B","x":480,"y":1.8,"s":"B"},{"k":"s","c":"4B","x":540,"y":1.9,"s":"A"},{"k":"s","c":"4B","x":600,"y":2.0,"s":"C"},{"k":"s","c":"4B","x":640,"y":2.15,"s":"B"},{"k":"s","c":"4B","x":665,"y":2.2,"s":"A"},
{"k":"s","c":"4D","x":3,"y":2.94,"s":"B"},{"k":"s","c":"4D","x":309,"y":2.91,"s":"B"},{"k":"s","c":"4D","x":511,"y":2.85,"s":"C"},{"k":"s","c":"4D","x":102,"y":2.65,"s":"A"},{"k":"s","c":"4D","x":213,"y":2.55,"s":"C"},{"k":"s","c":"4D","x":11,"y":2.52,"s":"A"},{"k":"s","c":"4D","x":456,"y":2.35,"s":"B"},{"k":"s","c":"4D","x":315,"y":2.2,"s":"A"},{"k":"s","c":"4D","x":11,"y":2.12,"s":"A"},{"k":"s","c":"4D","x":210,"y":1.98,"s":"A"},{"k":"s","c":"4D","x":367,"y":2.0,"s":"A"},{"k":"s","c":"4D","x":453,"y":2.02,"s":"A"},{"k":"s","c":"4D","x":481,"y":1.83,"s":"B"},{"k":"s","c":"4D","x":135,"y":1.8,"s":"A"},
{"k":"s","c":"4D","x":5,"y":1.35,"s":"B"},{"k":"s","c":"4D","x":20,"y":1.3,"s":"A"},{"k":"s","c":"4D","x":60,"y":1.25,"s":"C"},{"k":"s","c":"4D","x":100,"y":1.15,"s":"A"},{"k":"s","c":"4D","x":200,"y":0.8,"s":"B"},{"k":"s","c":"4D","x":300,"y":0.95,"s":"A"},{"k":"s","c":"4D","x":380,"y":1.15,"s":"B"},{"k":"s","c":"4D","x":430,"y":1.25,"s":"C"},{"k":"s","c":"4D","x":470,"y":1.3,"s":"A"},{"k":"s","c":"4D","x":500,"y":1.25,"s":"B"},
{"k":"s","c":"5A","x":9,"y":2.97,"s":"C"},{"k":"s","c":"5A","x":32,"y":2.77,"s":"B"},{"k":"s","c":"5A","x":405,"y":2.85,"s":"B"},{"k":"s","c":"5A","x":469,"y":2.89,"s":"A"},{"k":"s","c":"5A","x":571,"y":2.86,"s":"A"},{"k":"s","c":"5A","x":640,"y":2.89,"s":"A"},{"k":"s","c":"5A","x":709,"y":2.96,"s":"A"},{"k":"s","c":"5A","x":579,"y":2.69,"s":"C"},{"k":"s","c":"5A","x":4,"y":2.45,"s":"C"},{"k":"s","c":"5A","x":474,"y":2.51,"s":"C"},{"k":"s","c":"5A","x":220,"y":1.86,"s":"B"},{"k":"s","c":"5A","x":220,"y":1.56,"s":"B"},{"k":"s","c":"5A","x":13,"y":2.19,"s":"A"},
{"k":"s","c":"5A","x":5,"y":2.25,"s":"A"},{"k":"s","c":"5A","x":15,"y":2.35,"s":"B"},{"k":"s","c":"5A","x":40,"y":2.2,"s":"C"},{"k":"s","c":"5A","x":70,"y":2.0,"s":"A"},{"k":"s","c":"5A","x":100,"y":1.8,"s":"B"},{"k":"s","c":"5A","x":130,"y":1.4,"s":"A"},{"k":"s","c":"5A","x":200,"y":0.95,"s":"C"},{"k":"s","c":"5A","x":300,"y":1.15,"s":"B"},{"k":"s","c":"5A","x":350,"y":1.85,"s":"A"},{"k":"s","c":"5A","x":400,"y":2.05,"s":"B"},{"k":"s","c":"5A","x":450,"y":2.2,"s":"A"},{"k":"s","c":"5A","x":500,"y":2.3,"s":"C"},{"k":"s","c":"5A","x":550,"y":2.35,"s":"B"},{"k":"s","c":"5A","x":600,"y":2.4,"s":"A"},{"k":"s","c":"5A","x":640,"y":2.5,"s":"B"},{"k":"s","c":"5A","x":670,"y":2.6,"s":"A"},{"k":"s","c":"5A","x":700,"y":2.65,"s":"C"},
{"k":"s","c":"5B","x":597,"y":2.97,"s":"B"},{"k":"s","c":"5B","x":606,"y":2.86,"s":"C"},{"k":"s","c":"5B","x":697,"y":2.78,"s":"B"},{"k":"s","c":"5B","x":376,"y":2.72,"s":"B"},{"k":"s","c":"5B","x":67,"y":2.71,"s":"A"},{"k":"s","c":"5B","x":67,"y":2.56,"s":"C"},{"k":"s","c":"5B","x":25,"y":2.53,"s":"A"},{"k":"s","c":"5B","x":467,"y":2.63,"s":"A"},{"k":"s","c":"5B","x":349,"y":2.37,"s":"C"},{"k":"s","c":"5B","x":702,"y":2.44,"s":"B"},{"k":"s","c":"5B","x":246,"y":1.87,"s":"B"},{"k":"s","c":"5B","x":20,"y":2.39,"s":"B"},{"k":"s","c":"5B","x":315,"y":1.7,"s":"C"},
{"k":"s","c":"5B","x":5,"y":2.15,"s":"B"},{"k":"s","c":"5B","x":15,"y":2.05,"s":"A"},{"k":"s","c":"5B","x":40,"y":2.0,"s":"C"},{"k":"s","c":"5B","x":80,"y":1.55,"s":"A"},{"k":"s","c":"5B","x":130,"y":1.1,"s":"B"},{"k":"s","c":"5B","x":220,"y":1.25,"s":"A"},{"k":"s","c":"5B","x":280,"y":1.45,"s":"C"},{"k":"s","c":"5B","x":330,"y":1.6,"s":"B"},{"k":"s","c":"5B","x":390,"y":1.7,"s":"A"},{"k":"s","c":"5B","x":450,"y":1.8,"s":"B"},{"k":"s","c":"5B","x":520,"y":1.85,"s":"A"},{"k":"s","c":"5B","x":580,"y":1.95,"s":"C"},{"k":"s","c":"5B","x":630,"y":2.05,"s":"B"},{"k":"s","c":"5B","x":670,"y":2.05,"s":"A"},{"k":"s","c":"5B","x":700,"y":1.95,"s":"B"},
{"k":"s","c":"5D","x":289,"y":2.53,"s":"A"},{"k":"s","c":"5D","x":46,"y":2.24,"s":"B"},{"k":"s","c":"5D","x":244,"y":2.26,"s":"B"},{"k":"s","c":"5D","x":535,"y":2.16,"s":"A"},{"k":"s","c":"5D","x":267,"y":2.08,"s":"A"},{"k":"s","c":"5D","x":446,"y":2.05,"s":"A"},{"k":"s","c":"5D","x":342,"y":1.86,"s":"A"},{"k":"s","c":"5D","x":510,"y":1.96,"s":"B"},{"k":"s","c":"5D","x":14,"y":1.69,"s":"B"},{"k":"s","c":"5D","x":116,"y":1.63,"s":"C"},{"k":"s","c":"5D","x":295,"y":1.64,"s":"B"},
{"k":"s","c":"5D","x":10,"y":1.25,"s":"A"},{"k":"s","c":"5D","x":60,"y":1.15,"s":"B"},{"k":"s","c":"5D","x":120,"y":1.05,"s":"A"},{"k":"s","c":"5D","x":180,"y":0.95,"s":"C"},{"k":"s","c":"5D","x":240,"y":1.0,"s":"B"},{"k":"s","c":"5D","x":300,"y":1.05,"s":"A"},{"k":"s","c":"5D","x":360,"y":1.15,"s":"B"},{"k":"s","c":"5D","x":420,"y":1.25,"s":"A"},{"k":"s","c":"5D","x":470,"y":1.4,"s":"C"},{"k":"s","c":"5D","x":520,"y":1.6,"s":"B"},{"k":"s","c":"5D","x":550,"y":2.05,"s":"A"},{"k":"s","c":"5D","x":560,"y":2.15,"s":"B"},
{"k":"s","c":"6A","x":614,"y":2.99,"s":"B"},{"k":"s","c":"6A","x":600,"y":2.91,"s":"B"},{"k":"s","c":"6A","x":20,"y":2.96,"s":"A"},{"k":"s","c":"6A","x":54,"y":2.96,"s":"C"},{"k":"s","c":"6A","x":48,"y":2.89,"s":"C"},{"k":"s","c":"6A","x":12,"y":2.81,"s":"B"},{"k":"s","c":"6A","x":48,"y":2.66,"s":"C"},{"k":"s","c":"6A","x":551,"y":2.76,"s":"A"},{"k":"s","c":"6A","x":565,"y":2.58,"s":"A"},{"k":"s","c":"6A","x":351,"y":2.09,"s":"A"},{"k":"s","c":"6A","x":131,"y":1.96,"s":"B"},{"k":"s","c":"6A","x":164,"y":1.85,"s":"A"},{"k":"s","c":"6A","x":462,"y":1.7,"s":"B"},{"k":"s","c":"6A","x":275,"y":1.35,"s":"C"},
{"k":"s","c":"6A","x":5,"y":2.15,"s":"A"},{"k":"s","c":"6A","x":15,"y":2.25,"s":"B"},{"k":"s","c":"6A","x":40,"y":2.05,"s":"C"},{"k":"s","c":"6A","x":70,"y":1.8,"s":"A"},{"k":"s","c":"6A","x":100,"y":1.6,"s":"B"},{"k":"s","c":"6A","x":140,"y":1.25,"s":"A"},{"k":"s","c":"6A","x":200,"y":0.8,"s":"C"},{"k":"s","c":"6A","x":380,"y":1.1,"s":"B"},{"k":"s","c":"6A","x":440,"y":1.45,"s":"A"},{"k":"s","c":"6A","x":490,"y":1.65,"s":"B"},{"k":"s","c":"6A","x":530,"y":2.25,"s":"A"},{"k":"s","c":"6A","x":560,"y":2.35,"s":"C"},{"k":"s","c":"6A","x":590,"y":2.35,"s":"B"},{"k":"s","c":"6A","x":610,"y":2.3,"s":"A"},
{"k":"s","c":"6B","x":33,"y":2.99,"s":"B"},{"k":"s","c":"6B","x":19,"y":2.91,"s":"A"},{"k":"s","c":"6B","x":281,"y":2.91,"s":"C"},{"k":"s","c":"6B","x":461,"y":2.91,"s":"B"},{"k":"s","c":"6B","x":640,"y":2.86,"s":"C"},{"k":"s","c":"6B","x":709,"y":2.86,"s":"B"},{"k":"s","c":"6B","x":295,"y":2.82,"s":"B"},{"k":"s","c":"6B","x":433,"y":2.82,"s":"B"},{"k":"s","c":"6B","x":433,"y":2.77,"s":"A"},{"k":"s","c":"6B","x":571,"y":2.68,"s":"C"},{"k":"s","c":"6B","x":640,"y":2.52,"s":"A"},{"k":"s","c":"6B","x":157,"y":2.56,"s":"A"},{"k":"s","c":"6B","x":281,"y":2.56,"s":"A"},{"k":"s","c":"6B","x":5,"y":2.56,"s":"C"},{"k":"s","c":"6B","x":516,"y":2.42,"s":"B"},
{"k":"s","c":"6B","x":5,"y":2.15,"s":"B"},{"k":"s","c":"6B","x":15,"y":2.2,"s":"A"},{"k":"s","c":"6B","x":40,"y":2.0,"s":"C"},{"k":"s","c":"6B","x":80,"y":1.75,"s":"A"},{"k":"s","c":"6B","x":130,"y":1.65,"s":"B"},{"k":"s","c":"6B","x":190,"y":1.55,"s":"A"},{"k":"s","c":"6B","x":250,"y":1.5,"s":"C"},{"k":"s","c":"6B","x":310,"y":1.45,"s":"B"},{"k":"s","c":"6B","x":370,"y":1.45,"s":"A"},{"k":"s","c":"6B","x":430,"y":1.65,"s":"B"},{"k":"s","c":"6B","x":490,"y":1.8,"s":"A"},{"k":"s","c":"6B","x":550,"y":1.85,"s":"C"},{"k":"s","c":"6B","x":610,"y":1.95,"s":"B"},{"k":"s","c":"6B","x":660,"y":2.05,"s":"A"},{"k":"s","c":"6B","x":700,"y":2.1,"s":"B"},
{"k":"s","c":"6D","x":12,"y":2.46,"s":"A"},{"k":"s","c":"6D","x":12,"y":2.26,"s":"C"},{"k":"s","c":"6D","x":322,"y":2.35,"s":"B"},{"k":"s","c":"6D","x":358,"y":2.28,"s":"C"},{"k":"s","c":"6D","x":362,"y":2.2,"s":"B"},{"k":"s","c":"6D","x":288,"y":2.04,"s":"A"},{"k":"s","c":"6D","x":463,"y":2.77,"s":"A"},{"k":"s","c":"6D","x":460,"y":2.89,"s":"B"},{"k":"s","c":"6D","x":460,"y":2.7,"s":"A"},{"k":"s","c":"6D","x":109,"y":1.76,"s":"A"},{"k":"s","c":"6D","x":109,"y":1.63,"s":"A"},{"k":"s","c":"6D","x":288,"y":1.83,"s":"A"},{"k":"s","c":"6D","x":468,"y":1.99,"s":"C"},{"k":"s","c":"6D","x":360,"y":1.93,"s":"A"},
{"k":"s","c":"6D","x":5,"y":1.85,"s":"A"},{"k":"s","c":"6D","x":15,"y":1.95,"s":"B"},{"k":"s","c":"6D","x":40,"y":1.6,"s":"C"},{"k":"s","c":"6D","x":80,"y":1.05,"s":"A"},{"k":"s","c":"6D","x":130,"y":1.0,"s":"B"},{"k":"s","c":"6D","x":250,"y":1.1,"s":"A"},{"k":"s","c":"6D","x":320,"y":1.2,"s":"C"},{"k":"s","c":"6D","x":380,"y":1.5,"s":"B"},{"k":"s","c":"6D","x":430,"y":1.85,"s":"A"},{"k":"s","c":"6D","x":455,"y":2.2,"s":"B"},{"k":"s","c":"6D","x":470,"y":2.15,"s":"A"},
{"k":"s","c":"7A","x":33,"y":2.99,"s":"B"},{"k":"s","c":"7A","x":41,"y":2.75,"s":"B"},{"k":"s","c":"7A","x":33,"y":2.62,"s":"B"},{"k":"s","c":"7A","x":13,"y":2.51,"s":"A"},{"k":"s","c":"7A","x":19,"y":2.35,"s":"B"},{"k":"s","c":"7A","x":74,"y":2.35,"s":"B"},{"k":"s","c":"7A","x":679,"y":2.97,"s":"B"},{"k":"s","c":"7A","x":729,"y":2.9,"s":"A"},{"k":"s","c":"7A","x":723,"y":2.82,"s":"C"},{"k":"s","c":"7A","x":732,"y":2.77,"s":"B"},{"k":"s","c":"7A","x":516,"y":2.22,"s":"B"},{"k":"s","c":"7A","x":516,"y":2.08,"s":"A"},{"k":"s","c":"7A","x":115,"y":2.16,"s":"A"},{"k":"s","c":"7A","x":129,"y":1.91,"s":"C"},{"k":"s","c":"7A","x":535,"y":2.02,"s":"A"},
{"k":"s","c":"7A","x":5,"y":2.15,"s":"A"},{"k":"s","c":"7A","x":15,"y":2.2,"s":"B"},{"k":"s","c":"7A","x":40,"y":2.05,"s":"C"},{"k":"s","c":"7A","x":80,"y":1.85,"s":"A"},{"k":"s","c":"7A","x":110,"y":1.75,"s":"B"},{"k":"s","c":"7A","x":160,"y":1.25,"s":"A"},{"k":"s","c":"7A","x":220,"y":1.15,"s":"C"},{"k":"s","c":"7A","x":280,"y":1.05,"s":"B"},{"k":"s","c":"7A","x":490,"y":1.55,"s":"A"},{"k":"s","c":"7A","x":540,"y":1.85,"s":"B"},{"k":"s","c":"7A","x":590,"y":2.0,"s":"A"},{"k":"s","c":"7A","x":640,"y":2.15,"s":"C"},{"k":"s","c":"7A","x":680,"y":2.25,"s":"B"},{"k":"s","c":"7A","x":710,"y":2.2,"s":"A"},{"k":"s","c":"7A","x":730,"y":2.05,"s":"B"},
{"k":"s","c":"7B","x":684,"y":2.76,"s":"A"},{"k":"s","c":"7B","x":684,"y":2.71,"s":"A"},{"k":"s","c":"7B","x":681,"y":2.62,"s":"C"},{"k":"s","c":"7B","x":675,"y":2.44,"s":"A"},{"k":"s","c":"7B","x":39,"y":2.56,"s":"B"},{"k":"s","c":"7B","x":12,"y":2.51,"s":"C"},{"k":"s","c":"7B","x":25,"y":2.39,"s":"B"},{"k":"s","c":"7B","x":209,"y":2.32,"s":"C"},{"k":"s","c":"7B","x":427,"y":2.13,"s":"B"},{"k":"s","c":"7B","x":524,"y":2.22,"s":"A"},{"k":"s","c":"7B","x":606,"y":2.16,"s":"C"},{"k":"s","c":"7B","x":592,"y":2.35,"s":"B"},{"k":"s","c":"7B","x":131,"y":2.09,"s":"B"},{"k":"s","c":"7B","x":81,"y":2.1,"s":"B"},
{"k":"s","c":"7B","x":5,"y":2.0,"s":"B"},{"k":"s","c":"7B","x":20,"y":1.95,"s":"A"},{"k":"s","c":"7B","x":60,"y":1.9,"s":"C"},{"k":"s","c":"7B","x":110,"y":1.8,"s":"A"},{"k":"s","c":"7B","x":160,"y":1.75,"s":"B"},{"k":"s","c":"7B","x":220,"y":1.6,"s":"A"},{"k":"s","c":"7B","x":280,"y":1.1,"s":"C"},{"k":"s","c":"7B","x":350,"y":1.05,"s":"B"},{"k":"s","c":"7B","x":430,"y":1.25,"s":"A"},{"k":"s","c":"7B","x":500,"y":1.55,"s":"B"},{"k":"s","c":"7B","x":560,"y":1.75,"s":"A"},{"k":"s","c":"7B","x":620,"y":1.9,"s":"C"},{"k":"s","c":"7B","x":670,"y":1.9,"s":"B"},{"k":"s","c":"7B","x":700,"y":1.95,"s":"A"},{"k":"s","c":"7B","x":740,"y":1.85,"s":"B"},
{"k":"s","c":"7D","x":5,"y":2.89,"s":"A"},{"k":"s","c":"7D","x":19,"y":2.84,"s":"A"},{"k":"s","c":"7D","x":33,"y":2.66,"s":"A"},{"k":"s","c":"7D","x":5,"y":2.59,"s":"B"},{"k":"s","c":"7D","x":74,"y":2.48,"s":"B"},{"k":"s","c":"7D","x":613,"y":2.87,"s":"C"},{"k":"s","c":"7D","x":550,"y":2.74,"s":"B"},{"k":"s","c":"7D","x":608,"y":2.72,"s":"A"},{"k":"s","c":"7D","x":613,"y":2.56,"s":"B"},{"k":"s","c":"7D","x":511,"y":2.49,"s":"A"},{"k":"s","c":"7D","x":550,"y":2.43,"s":"A"},{"k":"s","c":"7D","x":511,"y":2.34,"s":"A"},{"k":"s","c":"7D","x":594,"y":2.24,"s":"C"},{"k":"s","c":"7D","x":88,"y":2.15,"s":"B"},{"k":"s","c":"7D","x":442,"y":1.96,"s":"C"},
{"k":"s","c":"7D","x":5,"y":2.05,"s":"A"},{"k":"s","c":"7D","x":15,"y":2.0,"s":"B"},{"k":"s","c":"7D","x":50,"y":1.95,"s":"C"},{"k":"s","c":"7D","x":100,"y":1.8,"s":"A"},{"k":"s","c":"7D","x":140,"y":1.6,"s":"B"},{"k":"s","c":"7D","x":200,"y":0.95,"s":"A"},{"k":"s","c":"7D","x":260,"y":0.8,"s":"C"},{"k":"s","c":"7D","x":350,"y":1.1,"s":"B"},{"k":"s","c":"7D","x":420,"y":1.2,"s":"A"},{"k":"s","c":"7D","x":480,"y":1.3,"s":"B"},{"k":"s","c":"7D","x":520,"y":1.75,"s":"A"},{"k":"s","c":"7D","x":560,"y":1.85,"s":"C"},{"k":"s","c":"7D","x":600,"y":1.95,"s":"B"},{"k":"s","c":"7D","x":630,"y":1.85,"s":"A"},
{"k":"p","c":"1A","x":16,"y":3.64,"s":"A","t":"t7"},{"k":"p","c":"1A","x":130,"y":3.71,"s":"C","t":"t8"},{"k":"p","c":"1A","x":314,"y":3.82,"s":"B","t":"t2"},{"k":"p","c":"1A","x":16,"y":3.47,"s":"A","t":"t2"},{"k":"p","c":"1A","x":16,"y":3.29,"s":"A","t":"t2"},{"k":"p","c":"1A","x":16,"y":3.15,"s":"A","t":"t9"},{"k":"p","c":"1A","x":513,"y":3.61,"s":"C","t":"t1"},{"k":"p","c":"1A","x":484,"y":3.36,"s":"A","t":"t1"},{"k":"p","c":"1A","x":508,"y":3.23,"s":"B","t":"t2"},{"k":"p","c":"1A","x":434,"y":3.22,"s":"C","t":"t1"},{"k":"p","c":"1A","x":539,"y":3.37,"s":"C","t":"t6"},{"k":"p","c":"1A","x":533,"y":3.19,"s":"C","t":"t4"},{"k":"p","c":"1A","x":533,"y":3.10,"s":"C","t":"t6"},
{"k":"p","c":"1B","x":282,"y":3.33,"s":"A","t":"t3"},{"k":"p","c":"1B","x":636,"y":3.29,"s":"A","t":"t7"},{"k":"p","c":"1B","x":550,"y":3.31,"s":"B","t":"t9"},{"k":"p","c":"1B","x":556,"y":3.35,"s":"C","t":"t9"},{"k":"p","c":"1B","x":615,"y":3.12,"s":"B","t":"t8"},
{"k":"p","c":"1D","x":175,"y":3.52,"s":"B","t":"t3"},{"k":"p","c":"1D","x":65,"y":3.45,"s":"B","t":"t3"},{"k":"p","c":"1D","x":65,"y":3.25,"s":"B","t":"t3"},{"k":"p","c":"1D","x":175,"y":3.2,"s":"B","t":"t3"},{"k":"p","c":"1D","x":65,"y":3.08,"s":"B","t":"t3"},
{"k":"p","c":"2A","x":204,"y":3.75,"s":"B","t":"t5"},{"k":"p","c":"2A","x":530,"y":3.83,"s":"B","t":"t2"},{"k":"p","c":"2A","x":530,"y":3.74,"s":"B","t":"t2"},{"k":"p","c":"2A","x":752,"y":3.82,"s":"B","t":"t2"},{"k":"p","c":"2A","x":714,"y":4.26,"s":"A","t":"t1"},{"k":"p","c":"2A","x":746,"y":3.43,"s":"A","t":"t8"},{"k":"p","c":"2A","x":722,"y":3.35,"s":"C","t":"t1"},{"k":"p","c":"2A","x":528,"y":3.23,"s":"B","t":"t2"},
{"k":"p","c":"2B","x":45,"y":3.82,"s":"B","t":"t2"},{"k":"p","c":"2B","x":45,"y":3.58,"s":"C","t":"t3"},{"k":"p","c":"2B","x":183,"y":3.69,"s":"C","t":"t8"},{"k":"p","c":"2B","x":183,"y":3.58,"s":"C","t":"t8"},{"k":"p","c":"2B","x":9,"y":3.46,"s":"A","t":"t6"},{"k":"p","c":"2B","x":175,"y":3.36,"s":"A","t":"t8"},{"k":"p","c":"2B","x":183,"y":3.29,"s":"C","t":"t4"},{"k":"p","c":"2B","x":45,"y":3.22,"s":"C","t":"t3"},{"k":"p","c":"2B","x":169,"y":3.16,"s":"A","t":"t3"},{"k":"p","c":"2B","x":113,"y":3.06,"s":"B","t":"t4"},{"k":"p","c":"2B","x":183,"y":3.06,"s":"C","t":"t8"},{"k":"p","c":"2B","x":183,"y":3.0,"s":"C","t":"t8"},{"k":"p","c":"2B","x":495,"y":3.38,"s":"B","t":"t9"},{"k":"p","c":"2B","x":763,"y":4.33,"s":"A","t":"t9"},{"k":"p","c":"2B","x":716,"y":4.13,"s":"C","t":"t3"},{"k":"p","c":"2B","x":763,"y":4.04,"s":"A","t":"t9"},{"k":"p","c":"2B","x":763,"y":3.98,"s":"A","t":"t9"},{"k":"p","c":"2B","x":763,"y":3.83,"s":"A","t":"t9"},{"k":"p","c":"2B","x":763,"y":3.72,"s":"A","t":"t9"},{"k":"p","c":"2B","x":763,"y":3.63,"s":"A","t":"t9"},{"k":"p","c":"2B","x":707,"y":3.82,"s":"B","t":"t2"},{"k":"p","c":"2B","x":763,"y":3.43,"s":"A","t":"t9"},{"k":"p","c":"2B","x":638,"y":3.17,"s":"A","t":"t4"},{"k":"p","c":"2B","x":818,"y":3.24,"s":"B","t":"t8"},{"k":"p","c":"2B","x":777,"y":3.05,"s":"B","t":"t9"},{"k":"p","c":"2B","x":666,"y":3.39,"s":"C","t":"t4"},{"k":"p","c":"2B","x":694,"y":3.26,"s":"C","t":"t4"},{"k":"p","c":"2B","x":716,"y":3.17,"s":"C","t":"t4"},{"k":"p","c":"2B","x":666,"y":3.05,"s":"C","t":"t4"},{"k":"p","c":"2B","x":625,"y":3.0,"s":"C","t":"t4"},
{"k":"p","c":"2D","x":38,"y":3.59,"s":"B","t":"t8"},{"k":"p","c":"2D","x":430,"y":3.75,"s":"B","t":"t8"},{"k":"p","c":"2D","x":38,"y":3.36,"s":"B","t":"t8"},{"k":"p","c":"2D","x":38,"y":3.31,"s":"C","t":"t6"},{"k":"p","c":"2D","x":52,"y":3.05,"s":"B","t":"t6"},{"k":"p","c":"2D","x":24,"y":3.13,"s":"C","t":"t6"},{"k":"p","c":"2D","x":31,"y":5.8,"s":"B","t":"t5"},
{"k":"p","c":"3A","x":114,"y":3.36,"s":"A","t":"t9"},{"k":"p","c":"3A","x":713,"y":4.04,"s":"A","t":"t6"},{"k":"p","c":"3A","x":716,"y":3.43,"s":"B","t":"t8"},{"k":"p","c":"3A","x":716,"y":3.24,"s":"B","t":"t8"},{"k":"p","c":"3A","x":627,"y":3.17,"s":"B","t":"t4"},{"k":"p","c":"3A","x":740,"y":3.08,"s":"B","t":"t6"},{"k":"p","c":"3A","x":717,"y":3.05,"s":"B","t":"t7"},
{"k":"p","c":"3B","x":43,"y":3.51,"s":"A","t":"t1"},{"k":"p","c":"3B","x":43,"y":3.46,"s":"A","t":"t7"},{"k":"p","c":"3B","x":10,"y":3.05,"s":"A","t":"t6"},{"k":"p","c":"3B","x":52,"y":3.67,"s":"B","t":"t5"},{"k":"p","c":"3B","x":10,"y":3.12,"s":"B","t":"t4"},{"k":"p","c":"3B","x":461,"y":3.91,"s":"A","t":"t8"},{"k":"p","c":"3B","x":756,"y":4.11,"s":"A","t":"t7"},{"k":"p","c":"3B","x":756,"y":3.89,"s":"A","t":"t7"},{"k":"p","c":"3B","x":756,"y":3.49,"s":"A","t":"t9"},{"k":"p","c":"3B","x":756,"y":3.33,"s":"A","t":"t9"},{"k":"p","c":"3B","x":748,"y":3.26,"s":"A","t":"t7"},{"k":"p","c":"3B","x":481,"y":3.31,"s":"A","t":"t8"},{"k":"p","c":"3B","x":481,"y":3.12,"s":"A","t":"t8"},{"k":"p","c":"3B","x":481,"y":3.05,"s":"A","t":"t8"},{"k":"p","c":"3B","x":764,"y":3.08,"s":"A","t":"t9"},{"k":"p","c":"3B","x":444,"y":3.15,"s":"B","t":"t2"},{"k":"p","c":"3B","x":527,"y":3.15,"s":"B","t":"t2"},{"k":"p","c":"3B","x":665,"y":3.01,"s":"B","t":"t2"},{"k":"p","c":"3B","x":806,"y":3.16,"s":"B","t":"t6"},{"k":"p","c":"3B","x":673,"y":4.15,"s":"C","t":"t8"},{"k":"p","c":"3B","x":673,"y":3.67,"s":"C","t":"t8"},{"k":"p","c":"3B","x":673,"y":3.39,"s":"C","t":"t8"},{"k":"p","c":"3B","x":681,"y":3.16,"s":"C","t":"t8"},{"k":"p","c":"3B","x":35,"y":4.95,"s":"B","t":"t4"},{"k":"p","c":"3B","x":749,"y":5.61,"s":"A","t":"t7"},{"k":"p","c":"3B","x":749,"y":4.95,"s":"A","t":"t7"},{"k":"p","c":"3B","x":749,"y":4.8,"s":"A","t":"t7"},{"k":"p","c":"3B","x":749,"y":4.63,"s":"A","t":"t7"},{"k":"p","c":"3B","x":749,"y":4.96,"s":"C","t":"t3"},
{"k":"p","c":"3D","x":565,"y":4.34,"s":"A","t":"t7"},{"k":"p","c":"3D","x":539,"y":3.86,"s":"B","t":"t9"},{"k":"p","c":"3D","x":565,"y":3.03,"s":"A","t":"t6"},
{"k":"p","c":"4A","x":658,"y":4.75,"s":"B","t":"t6"},{"k":"p","c":"4A","x":480,"y":3.25,"s":"A","t":"t4"},{"k":"p","c":"4A","x":610,"y":3.33,"s":"C","t":"t7"},{"k":"p","c":"4A","x":610,"y":3.22,"s":"C","t":"t7"},{"k":"p","c":"4A","x":728,"y":3.03,"s":"C","t":"t7"},
{"k":"p","c":"4B","x":29,"y":3.55,"s":"B","t":"t6"},{"k":"p","c":"4B","x":18,"y":3.04,"s":"C","t":"t7"},{"k":"p","c":"4B","x":658,"y":4.52,"s":"C","t":"t8"},{"k":"p","c":"4B","x":658,"y":3.72,"s":"C","t":"t8"},{"k":"p","c":"4B","x":658,"y":3.28,"s":"A","t":"t3"},{"k":"p","c":"4B","x":658,"y":3.22,"s":"C","t":"t7"},{"k":"p","c":"4B","x":658,"y":3.12,"s":"C","t":"t3"},
{"k":"p","c":"4D","x":508,"y":3.06,"s":"A","t":"t1"},
{"k":"p","c":"5A","x":15,"y":3.79,"s":"B","t":"t4"},{"k":"p","c":"5A","x":34,"y":3.53,"s":"A","t":"t7"},{"k":"p","c":"5A","x":22,"y":3.43,"s":"A","t":"t9"},{"k":"p","c":"5A","x":22,"y":3.33,"s":"A","t":"t9"},{"k":"p","c":"5A","x":25,"y":3.21,"s":"A","t":"t8"},{"k":"p","c":"5A","x":45,"y":3.16,"s":"C","t":"t7"},{"k":"p","c":"5A","x":496,"y":3.11,"s":"B","t":"t3"},{"k":"p","c":"5A","x":422,"y":3.06,"s":"C","t":"t1"},{"k":"p","c":"5A","x":570,"y":3.13,"s":"C","t":"t1"},{"k":"p","c":"5A","x":700,"y":3.76,"s":"B","t":"t5"},{"k":"p","c":"5A","x":700,"y":3.37,"s":"B","t":"t5"},{"k":"p","c":"5A","x":674,"y":4.35,"s":"C","t":"t8"},{"k":"p","c":"5A","x":674,"y":4.13,"s":"C","t":"t8"},{"k":"p","c":"5A","x":674,"y":3.76,"s":"C","t":"t8"},
{"k":"p","c":"5B","x":385,"y":3.78,"s":"B","t":"t5"},{"k":"p","c":"5B","x":666,"y":3.82,"s":"B","t":"t2"},{"k":"p","c":"5B","x":600,"y":3.61,"s":"B","t":"t3"},{"k":"p","c":"5B","x":470,"y":3.36,"s":"A","t":"t9"},{"k":"p","c":"5B","x":600,"y":3.28,"s":"B","t":"t3"},
{"k":"p","c":"6A","x":27,"y":3.24,"s":"B","t":"t5"},{"k":"p","c":"6A","x":53,"y":3.64,"s":"A","t":"t1"},{"k":"p","c":"6A","x":43,"y":4.57,"s":"C","t":"t3"},{"k":"p","c":"6A","x":609,"y":3.82,"s":"B","t":"t2"},{"k":"p","c":"6A","x":609,"y":3.72,"s":"B","t":"t2"},{"k":"p","c":"6A","x":560,"y":3.49,"s":"A","t":"t2"},{"k":"p","c":"6A","x":560,"y":3.29,"s":"A","t":"t2"},{"k":"p","c":"6A","x":582,"y":3.62,"s":"C","t":"t8"},{"k":"p","c":"6A","x":560,"y":3.15,"s":"C","t":"t8"},
{"k":"p","c":"6B","x":46,"y":4.02,"s":"B","t":"t8"},{"k":"p","c":"6B","x":36,"y":3.82,"s":"B","t":"t2"},{"k":"p","c":"6B","x":36,"y":3.57,"s":"B","t":"t8"},{"k":"p","c":"6B","x":712,"y":3.98,"s":"B","t":"t7"},{"k":"p","c":"6B","x":575,"y":3.82,"s":"B","t":"t2"},{"k":"p","c":"6B","x":646,"y":3.03,"s":"A","t":"t1"},{"k":"p","c":"6B","x":646,"y":3.08,"s":"C","t":"t1"},
{"k":"p","c":"6D","x":32,"y":3.15,"s":"B","t":"t2"},{"k":"p","c":"6D","x":361,"y":3.1,"s":"B","t":"t6"},
{"k":"p","c":"7A","x":77,"y":3.57,"s":"B","t":"t9"},{"k":"p","c":"7A","x":487,"y":3.82,"s":"B","t":"t2"},{"k":"p","c":"7A","x":580,"y":3.49,"s":"A","t":"t4"},{"k":"p","c":"7A","x":735,"y":3.36,"s":"B","t":"t2"},{"k":"p","c":"7A","x":713,"y":3.13,"s":"B","t":"t6"},{"k":"p","c":"7A","x":727,"y":4.29,"s":"C","t":"t3"},
{"k":"p","c":"7B","x":43,"y":4.12,"s":"B","t":"t5"},{"k":"p","c":"7B","x":43,"y":3.09,"s":"C","t":"t4"},
{"k":"p","c":"7D","x":554,"y":3.32,"s":"B","t":"t4"},{"k":"p","c":"7D","x":610,"y":3.11,"s":"C","t":"t9"},
{"k":"b","c":"2A","l":558,"r":860,"li":633,"ri":785,"lo":4.07,"hi":4.43},
{"k":"b","c":"2D","l":-107,"r":177,"li":-32,"ri":102,"lo":5.6,"hi":5.96},
{"k":"b","c":"3B","l":-140,"r":166,"li":-65,"ri":91,"lo":4.76,"hi":5.12},
{"k":"b","c":"3B","l":593,"r":921,"li":668,"ri":846,"lo":4.38,"hi":5.81},
{"k":"b","c":"4A","l":504,"r":807,"li":579,"ri":732,"lo":4.56,"hi":4.93},
{"k":"b","c":"5A","l":517,"r":837,"li":592,"ri":762,"lo":3.27,"hi":4.44},
{"k":"b","c":"6A","l":-96,"r":195,"li":-21,"ri":120,"lo":4.37,"hi":4.74},
{"k":"b","c":"7A","l":571,"r":881,"li":646,"ri":806,"lo":4.1,"hi":4.46}
]},
"facet":{"column":{"field":"c","type":"nominal","header":null}},
"spacing":{"column":9.05},
"spec":{
"width":110,"height":971,
"layer":[
{"transform":[{"filter":"datum.k==='g'"}],
 "mark":{"type":"area","color":"#bebebe","stroke":"#bebebe","strokeWidth":3,"interpolate":"linear"},
 "encoding":{
  "x":{"field":"x","type":"quantitative","scale":{"domain":[-41.5,871.5],"nice":false,"zero":false},
   "axis":{"values":[0,100,200,300,400,500,600,700,800],"labels":false,"title":null,"tickSize":4,"tickColor":"#333333","tickOpacity":{"condition":{"test":"datum.value % 200 !== 0","value":0},"value":1},"grid":true,"gridWidth":{"condition":{"test":"datum.value % 200 === 0","value":1.1},"value":0.6}}},
  "y":{"field":"y","type":"quantitative","scale":{"domain":[-0.5575,6.295],"nice":false,"zero":false},
   "axis":{"values":[0,1,2,3,4,5,6],"format":"d","labelExpr":"datum.value % 2 === 0 ? format(datum.value, 'd') : ''","tickOpacity":{"condition":{"test":"datum.value % 2 !== 0","value":0},"value":1},"tickSize":5,"tickColor":"#333333","labelFontSize":25,"labelColor":"#4d4d4d","labelPadding":3,"title":"-log10(p-value)","titleFontSize":26,"titleFontWeight":"bold","titleColor":"#000000","titlePadding":6,"grid":true,"gridWidth":{"condition":{"test":"datum.value % 2 === 0","value":1.1},"value":0.6}}},
  "y2":{"datum":0}}},
{"transform":[{"filter":"datum.k==='s'"}],
 "mark":{"type":"point","filled":true,"size":20,"color":"#bebebe","opacity":1},
 "encoding":{"x":{"field":"x","type":"quantitative"},"y":{"field":"y","type":"quantitative"},
  "shape":{"field":"s","type":"nominal","scale":{"domain":["A","B","C"],"range":["circle","square","triangle-up"]},"legend":null}}},
{"transform":[{"filter":"datum.k==='h'"}],
 "mark":{"type":"rule","color":"#01665e","strokeWidth":4,"strokeDash":[17,12]},
 "encoding":{"x":{"datum":-116.5,"type":"quantitative"},"x2":{"datum":871.5},"y":{"datum":5.379,"type":"quantitative"}}},
{"transform":[{"filter":"datum.k==='p' && datum.s==='A'"}],
 "mark":{"type":"point","filled":true,"size":361,"opacity":1},
 "encoding":{"x":{"field":"x","type":"quantitative"},"y":{"field":"y","type":"quantitative"},
  "shape":{"field":"s","type":"nominal","legend":null},
  "color":{"field":"t","type":"nominal","scale":{"domain":["t1","t2","t3","t4","t5","t6","t7","t8","t9"],"range":["#543005","#8c510a","#bf812d","#dfc27d","#f6e8c3","#80cdc1","#35978f","#01665e","#003c30"]},"legend":null}}},
{"transform":[{"filter":"datum.k==='p' && datum.s==='B'"}],
 "mark":{"type":"point","filled":true,"size":470,"opacity":1},
 "encoding":{"x":{"field":"x","type":"quantitative"},"y":{"field":"y","type":"quantitative"},
  "shape":{"field":"s","type":"nominal","legend":null},
  "color":{"field":"t","type":"nominal","legend":null}}},
{"transform":[{"filter":"datum.k==='p' && datum.s==='C'"}],
 "mark":{"type":"point","filled":true,"size":720,"opacity":1},
 "encoding":{"x":{"field":"x","type":"quantitative"},"y":{"field":"y","type":"quantitative"},
  "shape":{"field":"s","type":"nominal","legend":null},
  "color":{"field":"t","type":"nominal","legend":null}}},
{"transform":[{"filter":"datum.k==='b'"}],"mark":{"type":"rule","color":"#404040","strokeWidth":5.5,"strokeCap":"round"},
 "encoding":{"x":{"field":"l","type":"quantitative"},"y":{"field":"lo","type":"quantitative"},"y2":{"field":"hi"}}},
{"transform":[{"filter":"datum.k==='b'"}],"mark":{"type":"rule","color":"#404040","strokeWidth":5.5,"strokeCap":"round"},
 "encoding":{"x":{"field":"r","type":"quantitative"},"y":{"field":"lo","type":"quantitative"},"y2":{"field":"hi"}}},
{"transform":[{"filter":"datum.k==='b'"}],"mark":{"type":"rule","color":"#404040","strokeWidth":5.5,"strokeCap":"round"},
 "encoding":{"x":{"field":"l","type":"quantitative"},"x2":{"field":"li"},"y":{"field":"lo","type":"quantitative"}}},
{"transform":[{"filter":"datum.k==='b'"}],"mark":{"type":"rule","color":"#404040","strokeWidth":5.5,"strokeCap":"round"},
 "encoding":{"x":{"field":"l","type":"quantitative"},"x2":{"field":"li"},"y":{"field":"hi","type":"quantitative"}}},
{"transform":[{"filter":"datum.k==='b'"}],"mark":{"type":"rule","color":"#404040","strokeWidth":5.5,"strokeCap":"round"},
 "encoding":{"x":{"field":"ri","type":"quantitative"},"x2":{"field":"r"},"y":{"field":"lo","type":"quantitative"}}},
{"transform":[{"filter":"datum.k==='b'"}],"mark":{"type":"rule","color":"#404040","strokeWidth":5.5,"strokeCap":"round"},
 "encoding":{"x":{"field":"ri","type":"quantitative"},"x2":{"field":"r"},"y":{"field":"hi","type":"quantitative"}}},
{"transform":[{"filter":"datum.k==='h'"}],
 "mark":{"type":"rect","fill":"#d9d9d9","stroke":"#333333","strokeWidth":1.2},
 "encoding":{"x":{"datum":-41.5,"type":"quantitative"},"x2":{"datum":871.5},"y":{"datum":-0.5575,"type":"quantitative"},"y2":{"datum":-0.3035}}},
{"transform":[{"filter":"datum.k==='h'"}],
 "mark":{"type":"text","fontSize":25,"fontWeight":"bold","color":"#1a1a1a","align":"center","baseline":"middle"},
 "encoding":{"x":{"datum":415,"type":"quantitative"},"y":{"datum":-0.4305,"type":"quantitative"},"text":{"field":"c"}}}
]
},
"resolve":{"scale":{"x":"shared","y":"shared"}}
}
